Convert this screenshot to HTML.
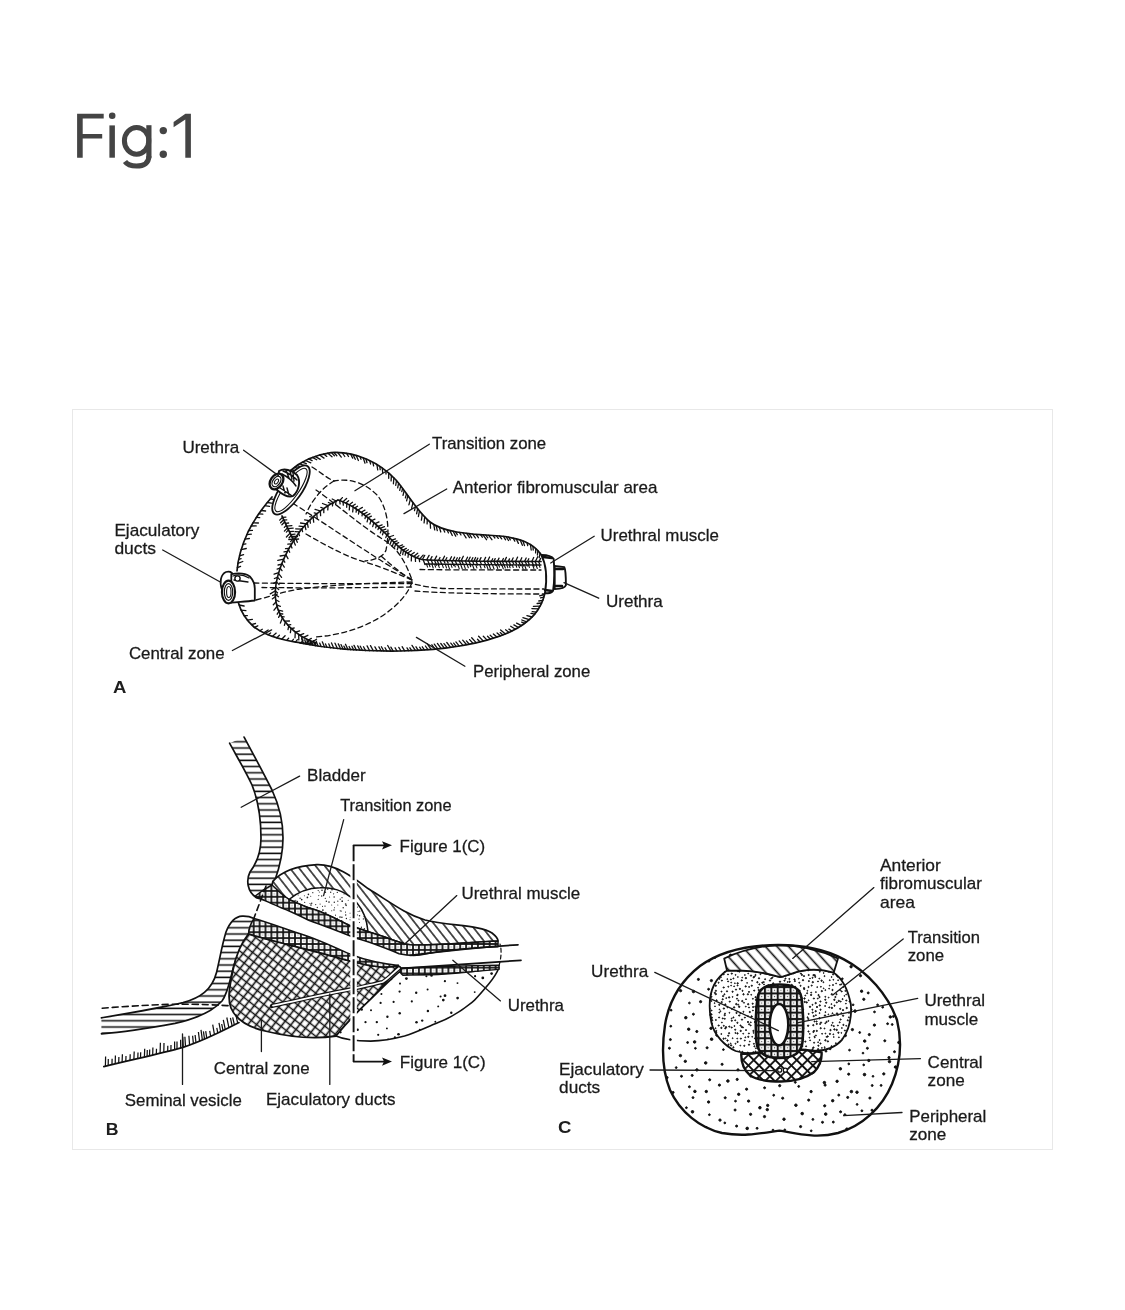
<!DOCTYPE html>
<html><head><meta charset="utf-8">
<style>
html,body{margin:0;padding:0;background:#fff;width:1125px;height:1310px;overflow:hidden}

.box{position:absolute;left:72px;top:409px;width:979px;height:739px;border:1px solid #e8e8e8}
svg{position:absolute;left:0;top:0;will-change:transform}
</style></head><body>

<div class="box"></div>
<svg width="1125" height="1310" viewBox="0 0 1125 1310">
<defs>
<pattern id="hatchAF" patternUnits="userSpaceOnUse" width="12" height="12" patternTransform="rotate(45)"><line x1="0" y1="0" x2="0" y2="12" stroke="#111" stroke-width="1.4"/></pattern>
<pattern id="cross" patternUnits="userSpaceOnUse" width="7" height="7" patternTransform="rotate(45)"><path d="M0 0V7M0 0H7" stroke="#111" stroke-width="1.3" fill="none"/></pattern>
<pattern id="horiz" patternUnits="userSpaceOnUse" width="20" height="7.5"><line x1="0" y1="3.5" x2="20" y2="3.5" stroke="#111" stroke-width="1.5"/></pattern>
<pattern id="checker" patternUnits="userSpaceOnUse" width="6" height="6"><rect width="6" height="6" fill="#111"/><rect x="1.5" y="1.5" width="3" height="3" fill="#fff"/></pattern>
<pattern id="fineDots" patternUnits="userSpaceOnUse" width="5" height="5"><circle cx="1" cy="1" r="0.7" fill="#222"/><circle cx="3.5" cy="3.5" r="0.7" fill="#222"/></pattern>
<pattern id="sparseDots" patternUnits="userSpaceOnUse" width="16" height="16"><circle cx="3" cy="4" r="1.2" fill="#111"/><circle cx="11" cy="12" r="1.2" fill="#111"/><circle cx="12" cy="3" r="0.9" fill="#111"/></pattern>
</defs>
<g fill="#444" stroke="none">
<path d="M77.1 113.7H103.7V118.6H82.7V134.1H102.2V138.6H82.7V157.7H77.1Z"/>
<rect x="109.4" y="125.4" width="5.5" height="32.3"/>
<circle cx="112.2" cy="115.8" r="3.3"/>
<rect x="146.3" y="125.2" width="5.2" height="33"/>
<circle cx="163.3" cy="130.6" r="3.7"/>
<circle cx="163.3" cy="154.2" r="3.7"/>
<path d="M185.4 113.7H190.9V157.7H185.3V119.4L173.6 127.2V121.9Z"/>
</g>
<g fill="none" stroke="#444" stroke-width="5">
<ellipse cx="136.6" cy="140.8" rx="12.2" ry="13.4"/>
<path d="M148.9 156 C148.9 163 144 166.1 136.6 166.1 C131 166.1 127 164.5 125 161.5"/>
</g>
<g id="figA" fill="none" stroke="#111" stroke-linecap="round" stroke-linejoin="round">
<path d="M290 471 C300 462 314 455 331 452.6 C356 451 380 463 396 480 C408 494 416 510 430 522 C443 532 465 534 500 536 C520 538 533 543 541.5 555" stroke-width="1.7"/>
<path d="M291.3 469.9 l5.5 0.9 M294.4 467.3 l4.1 1.0 M296.8 465.6 l4.4 1.2 M299.6 463.8 l5.1 1.7 M302.2 462.2 l4.1 1.5 M305.5 460.5 l5.3 2.3 M308.7 458.9 l3.4 1.7 M312.4 457.4 l4.3 2.4 M315.2 456.4 l5.0 3.0 M319.5 455.0 l4.5 3.1 M323.7 454.0 l3.1 2.4 M327.6 453.1 l4.4 3.7 M331.4 452.6 l3.0 3.2 M334.0 452.5 l2.8 3.2 M337.7 452.5 l3.6 4.6 M342.3 452.8 l2.5 3.7 M346.6 453.3 l1.9 3.2 M350.5 454.0 l2.2 4.1 M353.0 454.6 l2.3 4.7 M356.2 455.4 l2.2 5.1 M359.9 456.6 l1.1 2.7 M363.2 457.8 l1.8 5.4 M365.9 458.9 l1.1 3.8 M369.7 460.6 l0.9 3.4 M372.9 462.3 l0.7 3.6 M376.9 464.5 l0.8 5.4 M379.8 466.4 l0.4 3.2 M382.3 468.1 l0.4 4.5 M385.9 470.8 l0.1 3.3 M388.7 473.1 l-0.0 5.2 M391.4 475.4 l-0.3 5.5 M393.9 477.9 l-0.5 5.9 M396.5 480.6 l-0.8 4.7 M398.6 483.2 l-0.9 4.7 M400.7 485.8 l-1.0 4.6 M402.6 488.3 l-0.8 3.4 M404.2 490.6 l-1.2 4.7 M406.5 493.6 l-1.1 4.3 M407.9 495.7 l-1.3 5.1 M410.4 499.2 l-1.5 5.6 M413.0 502.7 l-1.4 5.6 M415.5 506.2 l-1.0 4.5 M417.6 508.8 l-1.0 5.0 M419.4 511.1 l-1.0 5.4 M422.2 514.4 l-0.8 5.7 M424.7 517.0 l-0.6 5.9 M427.3 519.6 l-0.2 4.3 M430.2 522.1 l0.3 6.1 M433.8 524.6 l0.9 5.3 M436.2 525.9 l1.1 4.7 M439.3 527.3 l1.5 4.7 M443.3 528.7 l1.4 3.4 M447.1 529.9 l1.4 3.0 M449.9 530.6 l2.4 4.9 M453.1 531.3 l2.6 4.8 M455.6 531.8 l1.7 2.9 M459.4 532.4 l1.6 2.6 M463.0 533.0 l3.1 4.9 M466.7 533.4 l2.8 4.2 M469.1 533.7 l2.7 4.1 M472.7 534.1 l2.7 3.9 M476.1 534.4 l2.3 3.3 M480.5 534.7 l1.8 2.5 M483.0 534.9 l3.5 4.8 M485.8 535.1 l2.0 2.7 M488.7 535.3 l3.2 4.4 M493.1 535.6 l1.8 2.4 M496.4 535.8 l1.9 2.6 M499.5 536.0 l2.2 2.9 M503.4 536.4 l2.2 3.4 M506.1 536.7 l2.4 3.8 M508.7 537.1 l1.6 2.8 M513.1 538.0 l1.7 3.1 M516.2 538.7 l2.2 4.7 M520.2 539.9 l2.2 5.4 M522.9 540.8 l1.6 4.8 M527.0 542.6 l0.7 3.0 M530.4 544.5 l0.8 5.5 M533.0 546.3 l0.2 3.7 M535.8 548.6 l-0.2 4.3 M537.9 550.6 l-0.5 4.4 M540.1 553.1 l-0.9 4.6" stroke-width="1.3" stroke="#111"/>
<path d="M272 497 C264 506 255 518 248 532 C242 545 238 558 237 571" stroke-width="1.7"/>
<path d="M270.4 498.9 l4.1 0.8 M267.3 502.5 l4.2 0.7 M264.7 505.7 l4.8 0.7 M261.2 510.5 l4.4 0.5 M258.8 513.8 l4.0 0.3 M256.4 517.4 l3.3 0.2 M253.0 522.9 l5.4 0.1 M251.2 526.0 l5.0 -0.1 M248.7 530.6 l3.7 -0.2 M246.8 534.6 l4.5 -0.5 M244.9 539.1 l4.5 -0.6 M243.0 544.3 l2.9 -0.5 M241.1 549.7 l5.2 -1.2 M239.5 555.9 l4.1 -1.2 M238.6 559.5 l2.5 -0.8 M237.9 563.3 l4.9 -1.8 M237.3 567.7 l3.3 -1.4" stroke-width="1.3" stroke="#111"/>
<path d="M238.4 602.7 C241 612 246 620 254 627 C266 636 285 642 313 644" stroke-width="1.7"/>
<path d="M239.1 605.0 l5.0 1.0 M241.2 610.2 l4.7 0.4 M244.1 615.7 l3.3 -0.1 M247.3 620.1 l5.1 -0.8 M251.4 624.6 l4.1 -1.1 M254.4 627.3 l3.4 -1.5 M259.8 630.8 l2.5 -1.5 M263.8 632.9 l4.4 -2.9 M268.1 634.8 l2.5 -1.9 M272.3 636.4 l3.9 -3.3 M276.6 637.9 l2.8 -2.6 M281.7 639.3 l3.4 -3.5 M286.7 640.4 l1.9 -2.1 M291.7 641.4 l1.7 -2.1 M295.4 642.1 l2.0 -2.4 M301.0 642.8 l2.0 -2.7 M306.5 643.4 l1.8 -2.5 M310.3 643.8 l1.5 -2.2" stroke-width="1.3" stroke="#111"/>
<path d="M545 593 C541 610 531 622 510 632 C485 643 445 650 400 651 C360 651.5 330 649 300 643" stroke-width="1.7"/>
<path d="M544.6 594.5 l-5.0 1.4 M543.8 597.2 l-3.3 0.7 M542.7 600.4 l-3.9 0.6 M541.7 603.0 l-4.6 0.5 M540.1 606.2 l-6.7 0.2 M538.6 608.8 l-6.7 -0.2 M536.3 612.2 l-4.1 -0.5 M534.8 614.1 l-3.8 -0.7 M532.1 617.0 l-5.2 -1.3 M529.2 619.7 l-6.3 -2.1 M526.6 621.9 l-4.8 -1.9 M524.7 623.4 l-3.0 -1.3 M521.6 625.6 l-5.0 -2.5 M518.5 627.5 l-4.6 -2.6 M515.4 629.2 l-4.7 -2.9 M511.9 631.1 l-3.0 -2.0 M509.1 632.4 l-3.5 -2.6 M505.5 633.9 l-4.9 -3.9 M502.9 634.9 l-2.7 -2.3 M500.4 635.8 l-3.3 -2.8 M496.9 637.0 l-3.5 -3.1 M493.3 638.1 l-3.1 -2.9 M490.3 639.0 l-2.8 -2.7 M486.9 639.9 l-3.6 -3.6 M483.2 640.9 l-4.6 -4.7 M479.9 641.7 l-2.4 -2.5 M476.1 642.6 l-4.4 -4.8 M472.9 643.3 l-3.3 -3.7 M469.1 644.0 l-2.7 -3.1 M466.4 644.5 l-3.7 -4.3 M462.8 645.2 l-3.6 -4.3 M459.1 645.8 l-3.2 -3.9 M456.2 646.3 l-2.5 -3.2 M453.6 646.7 l-2.8 -3.6 M450.4 647.1 l-3.6 -4.6 M447.1 647.6 l-3.1 -4.0 M444.1 647.9 l-3.3 -4.4 M441.0 648.3 l-3.6 -4.9 M437.6 648.7 l-3.3 -4.6 M434.8 648.9 l-2.9 -4.1 M431.1 649.3 l-3.8 -5.4 M427.9 649.6 l-2.5 -3.6 M424.4 649.8 l-2.1 -3.0 M421.5 650.0 l-1.9 -2.8 M418.3 650.3 l-2.3 -3.5 M415.3 650.4 l-3.3 -5.0 M411.7 650.6 l-1.8 -2.8 M408.7 650.7 l-1.7 -2.8 M404.7 650.9 l-2.6 -4.2 M401.0 651.0 l-2.2 -3.6 M397.0 651.0 l-1.9 -3.2 M393.2 651.1 l-2.3 -4.0 M390.9 651.1 l-3.2 -5.6 M386.9 651.1 l-1.9 -3.4 M383.8 651.0 l-2.4 -4.3 M381.2 651.0 l-2.3 -4.1 M377.1 650.9 l-2.2 -4.0 M373.3 650.8 l-2.8 -5.2 M369.6 650.7 l-2.5 -4.8 M365.6 650.6 l-2.1 -3.9 M362.5 650.5 l-2.2 -4.3 M360.0 650.3 l-2.3 -4.4 M356.4 650.1 l-2.4 -4.7 M353.7 650.0 l-1.8 -3.7 M350.7 649.8 l-1.6 -3.3 M348.0 649.6 l-2.5 -5.3 M345.5 649.4 l-1.6 -3.3 M343.1 649.2 l-2.1 -4.6 M340.7 649.0 l-2.4 -5.1 M337.4 648.6 l-2.4 -5.4 M333.8 648.2 l-2.3 -5.3 M330.5 647.9 l-1.7 -4.0 M327.0 647.4 l-1.5 -3.5 M324.5 647.1 l-2.2 -5.3 M321.1 646.6 l-1.4 -3.5 M318.1 646.2 l-1.9 -5.0 M315.3 645.8 l-2.0 -5.2 M312.9 645.4 l-1.3 -3.6 M309.9 644.9 l-1.5 -4.0 M306.3 644.2 l-1.6 -4.4 M303.6 643.7 l-2.0 -5.8" stroke-width="1.3" stroke="#111"/>
<path d="M338 500 C322 508 305 522 294 540 C280 562 273 585 276 602 C279 620 295 636 316 643" stroke-width="1.6"/>
<path d="M336.1 501.0 l-3.9 -2.0 M331.2 503.7 l-2.8 -1.2 M328.0 505.7 l-5.5 -2.2 M323.9 508.5 l-3.1 -1.1 M320.5 511.0 l-5.4 -1.7 M317.1 513.7 l-2.9 -0.8 M313.0 517.3 l-3.3 -0.7 M309.4 520.7 l-4.8 -0.9 M306.4 523.8 l-5.9 -0.8 M303.9 526.6 l-4.8 -0.5 M301.7 529.2 l-6.0 -0.4 M299.5 531.9 l-4.5 -0.2 M296.4 536.3 l-5.7 0.1 M294.5 539.2 l-5.7 0.3 M291.7 543.8 l-3.9 0.3 M289.1 548.3 l-3.6 0.4 M287.4 551.4 l-3.4 0.5 M285.6 555.1 l-5.5 0.9 M283.7 559.1 l-5.9 1.2 M281.6 564.1 l-3.5 0.9 M280.1 568.2 l-3.0 0.9 M278.7 572.7 l-4.6 1.5 M277.4 577.3 l-3.0 1.2 M276.5 581.9 l-3.0 1.4 M275.7 587.4 l-3.8 2.1 M275.4 590.7 l-5.1 3.2 M275.4 596.5 l-3.1 2.4 M276.0 602.0 l-2.7 2.7 M277.0 606.5 l-3.0 3.7 M278.8 611.5 l-1.6 2.7 M280.2 614.4 l-1.6 3.0 M282.4 618.1 l-2.0 5.0 M285.3 622.2 l-0.9 3.1 M288.7 626.1 l-0.7 3.5 M291.0 628.3 l-0.6 4.4 M295.3 632.0 l-0.3 5.8 M298.7 634.5 l0.1 5.4 M301.9 636.5 l0.2 3.4 M306.9 639.3 l0.8 5.0 M310.2 640.8 l0.8 3.9 M315.1 642.7 l0.8 3.0" stroke-width="1.3" stroke="#111"/>
<path d="M336.1 501.0 l-0.5 3.6 M332.8 502.8 l-0.3 3.1 M328.0 505.7 l-0.2 4.2 M323.8 508.6 l0.0 4.1 M320.4 511.1 l0.2 4.6 M316.8 514.0 l0.4 4.8 M313.1 517.2 l0.6 4.9 M309.9 520.2 l0.5 3.0 M307.3 522.8 l0.9 4.5 M304.9 525.4 l1.0 4.3 M301.9 529.0 l0.7 2.7 M298.6 533.2 l0.9 2.5 M295.4 537.7 l1.9 4.6 M293.5 540.8 l1.8 4.3 M290.8 545.3 l1.2 2.7 M288.4 549.6 l1.3 2.6 M285.8 554.6 l2.2 4.0 M283.4 559.9 l1.4 2.3 M281.9 563.5 l2.4 3.6 M280.2 568.1 l1.8 2.5 M278.5 573.4 l3.1 3.9 M277.5 577.1 l2.0 2.3 M276.5 581.9 l2.6 2.7 M275.7 586.9 l3.0 2.6 M275.4 591.1 l2.1 1.6 M275.3 594.5 l3.2 2.2 M275.7 599.7 l3.3 1.8 M276.6 604.8 l3.8 1.5 M278.3 610.1 l4.3 1.0 M279.8 613.6 l3.0 0.4 M281.5 616.6 l2.7 0.2 M284.5 621.2 l5.0 -0.2 M287.8 625.1 l2.9 -0.4 M291.3 628.6 l2.9 -0.6 M295.5 632.2 l4.2 -1.3 M299.7 635.2 l4.0 -1.6 M303.4 637.4 l4.5 -2.1 M308.5 640.0 l2.8 -1.6 M312.6 641.8 l3.9 -2.6" stroke-width="1.3" stroke="#111"/>
<path d="M282 516 C286 525 290 533 294 541" stroke-width="1.8"/>
<path d="M282.6 517.3 l-2.9 2.8 M283.7 519.7 l-3.1 3.1 M284.7 522.0 l-2.8 2.8 M286.3 525.4 l-2.0 2.0 M287.5 527.9 l-3.1 3.2 M288.5 529.9 l-2.1 2.2 M290.1 533.1 l-3.7 3.9 M291.3 535.5 l-2.2 2.3 M293.0 539.0 l-2.4 2.6" stroke-width="1.3" stroke="#111"/>
<path d="M282.6 517.3 l3.3 -0.2 M283.8 520.1 l3.0 -0.2 M285.4 523.3 l3.2 -0.3 M286.7 526.1 l5.2 -0.5 M287.9 528.6 l5.3 -0.5 M289.4 531.7 l4.1 -0.4 M290.8 534.6 l4.2 -0.5 M292.1 537.1 l5.4 -0.6 M293.3 539.6 l5.3 -0.6" stroke-width="1.3" stroke="#111"/>
<path d="M338 500 C355 505 372 520 387 535 C398 547 408 556 422 559.5 C440 561 500 561.5 541 561.5" stroke-width="1.7"/>
<path d="M339.7 500.5 l0.4 3.4 M343.1 501.8 l0.2 3.3 M346.8 503.4 l-0.1 3.9 M349.6 504.8 l-0.3 5.1 M353.2 506.9 l-0.5 5.0 M356.5 509.0 l-0.4 3.1 M359.1 510.8 l-0.6 3.2 M362.5 513.2 l-0.5 2.6 M365.7 515.7 l-0.7 3.0 M368.2 517.6 l-1.1 4.2 M371.1 520.1 l-1.1 3.9 M373.9 522.5 l-1.2 4.1 M376.6 525.0 l-0.9 2.8 M378.8 527.1 l-0.8 2.5 M381.5 529.6 l-1.1 3.2 M383.6 531.6 l-1.1 3.2 M386.8 534.8 l-1.0 2.8 M389.8 538.0 l-1.9 4.8 M391.7 540.0 l-1.7 4.6 M393.8 542.1 l-1.5 4.2 M395.7 543.9 l-1.1 3.3 M398.3 546.3 l-1.0 3.5 M401.5 549.0 l-1.0 4.3 M403.5 550.5 l-0.8 4.1 M405.7 552.1 l-0.5 3.1 M408.4 553.8 l-0.4 3.5 M411.5 555.6 l-0.2 5.3 M415.3 557.3 l0.2 4.1 M419.2 558.7 l0.4 3.0 M423.1 559.6 l1.9 5.0 M427.5 559.9 l1.5 3.7 M431.2 560.0 l1.4 3.4 M434.5 560.2 l2.1 5.0 M437.1 560.3 l2.0 4.6 M440.1 560.4 l1.6 3.8 M443.8 560.5 l1.1 2.5 M447.0 560.6 l1.1 2.4 M451.6 560.7 l2.1 4.8 M455.2 560.8 l1.9 4.3 M459.2 560.8 l1.3 2.9 M461.8 560.9 l1.5 3.3 M465.3 560.9 l1.6 3.6 M468.9 561.0 l1.9 4.3 M472.5 561.1 l1.1 2.4 M475.9 561.1 l1.8 4.0 M480.0 561.2 l1.1 2.4 M484.2 561.2 l1.6 3.6 M487.3 561.2 l2.1 4.6 M490.4 561.3 l1.3 3.0 M493.9 561.3 l1.8 4.0 M496.7 561.3 l1.7 3.7 M499.6 561.3 l2.0 4.3 M502.4 561.4 l2.1 4.5 M505.9 561.4 l1.3 2.9 M509.0 561.4 l1.9 4.2 M512.5 561.4 l1.2 2.7 M515.3 561.4 l1.2 2.5 M518.7 561.5 l1.9 4.1 M521.5 561.5 l2.1 4.5 M525.2 561.5 l2.1 4.5 M527.9 561.5 l1.3 2.8 M531.8 561.5 l2.2 4.7 M535.0 561.5 l1.6 3.4 M538.5 561.5 l1.1 2.4" stroke-width="1.3" stroke="#111"/>
<path d="M339.7 500.5 l2.7 -2.9 M343.0 501.7 l3.6 -3.3 M345.9 503.0 l2.7 -2.3 M349.3 504.7 l3.2 -2.4 M352.1 506.3 l3.1 -2.1 M354.9 507.9 l2.6 -1.7 M358.0 510.0 l4.4 -2.6 M361.1 512.2 l3.8 -2.1 M363.7 514.1 l3.4 -1.8 M365.8 515.8 l4.2 -2.1 M368.3 517.7 l3.1 -1.5 M371.7 520.6 l3.2 -1.5 M375.0 523.6 l4.0 -1.7 M378.1 526.4 l4.0 -1.6 M380.1 528.3 l4.3 -1.7 M382.3 530.4 l3.5 -1.3 M384.3 532.3 l2.6 -1.0 M386.5 534.6 l2.5 -0.9 M388.8 537.0 l4.7 -1.5 M391.9 540.2 l3.6 -1.3 M393.8 542.1 l3.3 -1.2 M395.7 543.9 l3.0 -1.2 M398.5 546.5 l4.0 -1.7 M400.4 548.1 l3.6 -1.7 M403.0 550.1 l3.3 -1.7 M405.2 551.7 l3.2 -1.9 M407.4 553.2 l3.8 -2.5 M410.7 555.1 l3.5 -2.6 M413.7 556.6 l4.0 -3.4 M416.6 557.8 l2.3 -2.2 M419.7 558.9 l3.4 -3.8 M422.4 559.5 l2.3 -4.1 M426.7 559.8 l2.4 -4.4 M430.2 560.0 l1.8 -3.4 M434.5 560.2 l2.1 -4.1 M438.6 560.3 l1.4 -2.8 M442.4 560.4 l2.1 -4.2 M445.4 560.5 l1.4 -2.8 M449.6 560.6 l1.9 -3.8 M452.8 560.7 l1.8 -3.6 M455.8 560.8 l1.5 -3.0 M458.3 560.8 l1.6 -3.3 M461.1 560.9 l2.2 -4.6 M465.6 561.0 l1.9 -3.8 M468.2 561.0 l1.9 -3.8 M471.2 561.0 l1.6 -3.3 M473.9 561.1 l1.7 -3.6 M476.3 561.1 l1.5 -3.0 M479.3 561.1 l1.7 -3.5 M483.8 561.2 l1.8 -3.8 M487.6 561.2 l2.0 -4.2 M491.5 561.3 l1.2 -2.5 M493.9 561.3 l1.3 -2.7 M497.5 561.3 l1.5 -3.2 M502.0 561.4 l1.4 -2.9 M504.5 561.4 l1.9 -4.0 M508.3 561.4 l1.2 -2.5 M511.5 561.4 l1.6 -3.5 M515.6 561.4 l2.0 -4.3 M520.1 561.5 l1.7 -3.7 M524.5 561.5 l1.7 -3.5 M527.5 561.5 l1.3 -2.7 M531.8 561.5 l1.9 -4.0 M535.4 561.5 l2.3 -4.8 M539.1 561.5 l1.5 -3.1" stroke-width="1.3" stroke="#111"/>
<path d="M425 564 C450 564.5 500 565 541 565" stroke-width="1.3"/>
<path d="M426.5 564.0 l1.1 3.1 M429.1 564.1 l0.9 2.6 M431.9 564.1 l1.3 3.9 M434.6 564.2 l1.0 3.0 M438.1 564.2 l1.2 3.4 M442.2 564.3 l1.1 3.3 M445.3 564.3 l1.2 3.6 M447.9 564.4 l1.5 4.2 M450.9 564.4 l1.1 3.0 M454.4 564.5 l0.9 2.5 M457.8 564.5 l1.4 4.1 M460.7 564.5 l1.5 4.3 M463.9 564.6 l1.4 3.9 M467.2 564.6 l1.1 3.1 M469.9 564.6 l0.8 2.2 M472.4 564.6 l1.6 4.4 M475.8 564.7 l1.1 3.2 M479.8 564.7 l1.3 3.5 M483.9 564.7 l1.1 3.0 M486.5 564.8 l1.5 4.3 M489.0 564.8 l1.4 4.0 M492.5 564.8 l1.6 4.4 M496.4 564.8 l1.3 3.7 M498.7 564.9 l0.8 2.2 M501.9 564.9 l1.4 4.0 M504.2 564.9 l1.1 3.1 M506.8 564.9 l1.0 2.9 M509.1 564.9 l1.0 2.9 M512.3 564.9 l0.9 2.6 M515.9 564.9 l0.8 2.3 M518.5 565.0 l1.0 2.7 M521.7 565.0 l1.4 3.9 M524.6 565.0 l1.3 3.7 M528.5 565.0 l0.9 2.4 M532.6 565.0 l1.3 3.5 M536.0 565.0 l1.3 3.5 M539.1 565.0 l0.9 2.4" stroke-width="1.1"/>
<!-- dashed internal lines -->
<g stroke-width="1.3" stroke-dasharray="5 3.5">
 <path d="M312 467 C320 472 327 478 334 481 C348 478 365 482 378 496 C388 510 390 530 386 550 C384 556 376 560 365 561"/>
 <path d="M334 481 C322 488 312 500 306 514"/>
 <path d="M286 499 C320 520 360 548 412 580"/>
 <path d="M316 490 C335 503 360 525 380.8 538 C392 545 402 552 412 580"/>
 <path d="M306 534 C330 548 350 558 365 562 C385 568 400 575 412 580"/>
 <path d="M254 583 C300 583.5 360 584 412 583.5"/>
 <path d="M262 587.5 C300 588 360 588 412 587"/>
 <path d="M256 600 C272 596 286 591 300 589 C330 585 370 583 412 582"/>
 <path d="M412 582 C408 595 395 608 379 618 C360 629 340 635 316 637"/>
 <path d="M412 580 C402 574 392 566 380 555"/>
 <path d="M420 569.5 C450 570 500 570 541 570"/>
 <path d="M407 582 C420 586 432 588 445 588.5 C480 589 520 589 544 589"/>
 <path d="M415 591 C440 593 480 594 544 594"/>
</g>
<!-- urethra ring top-left -->
<g stroke-width="1.8" fill="#fff">
 <ellipse cx="291" cy="490" rx="10.5" ry="29" transform="rotate(35 291 490)"/>
 <ellipse cx="291" cy="490" rx="7.5" ry="26" transform="rotate(35 291 490)" stroke-width="1.1"/>
 <path d="M279 471 C284 468 292 470 297 475 C301 481 299 491 293 496 C289 498 283 495 277 490 Z" fill="#fff" stroke-width="1.9"/>
 <path d="M283 471 C288 473 293 476 297 480 M282 474 C288 477 292 480 296 486 M286 470 L289 478 M290 471 L292 479 M293 473 L294 481 M280 488 C285 491 289 494 292 496 M283 486 L285 493 M287 488 L289 495" fill="none" stroke-width="1.4"/>
 <ellipse cx="276.5" cy="481.5" rx="6" ry="8.5" transform="rotate(35 276.5 481.5)" stroke-width="2.3"/>
 <ellipse cx="276.5" cy="481.5" rx="3.6" ry="5.8" transform="rotate(35 276.5 481.5)" stroke-width="1.3"/>
 <ellipse cx="276.5" cy="481.5" rx="1.6" ry="2.8" transform="rotate(35 276.5 481.5)" stroke-width="1"/>
</g>
<!-- ejaculatory duct tube -->
<g stroke-width="1.8" fill="#fff">
 <path d="M222 590 C219 582 221 574 226 572 C230 571 233 573 234 577" fill="none" stroke-width="1.7"/>
 <path d="M231.3 574.2 C238 573 245 573 249.8 576.4 C253 580 254.8 584 254.8 588.4 L254.8 600.5 C246 601.5 238 602 231.3 602.7 Z"/>
 <path d="M233 576 C238 574 244 575 249 578 M234 580 L248 582" fill="none" stroke-width="1.3"/>
 <ellipse cx="228.5" cy="592" rx="6.6" ry="11.4" stroke-width="2.1"/>
 <ellipse cx="228.5" cy="592" rx="4.2" ry="8.4" stroke-width="1.2"/>
 <ellipse cx="228.8" cy="592" rx="2.2" ry="5.5" stroke-width="1.1"/>
 <circle cx="237.5" cy="578.5" r="2.6" stroke-width="1.4"/>
</g>
<!-- right urethral muscle ring + urethra -->
<g stroke-width="1.9" fill="#fff">
 <path d="M541.3 554.9 C546 555 551 555 553.6 558.7 C554.5 568 554.7 580 553.1 590.7 C552 593 548 593.5 545 593 C547 580 547 566 541.3 554.9 Z"/>
 <path d="M554.7 566 C558 566.5 562 566.5 564.3 567.2 C565.9 570 565.9 580 565.9 585.3 C565 588 560 589 554.7 589.1 Z"/>
</g>
<path d="M543 557 L552 558 M545 590 L552 591 M556 569 L563 569 M556 586 L562 586" stroke-width="2.5"/>

</g><defs>
<pattern id="bHoriz" patternUnits="userSpaceOnUse" width="40" height="6.2" y="1"><rect width="40" height="6.2" fill="#fff"/><line x1="0" y1="3" x2="40" y2="3" stroke="#111" stroke-width="1.6"/></pattern>
<pattern id="bDiag" patternUnits="userSpaceOnUse" width="7.2" height="40" patternTransform="rotate(-38)"><rect width="7.2" height="40" fill="#fff"/><line x1="3.6" y1="0" x2="3.6" y2="40" stroke="#111" stroke-width="1.4"/></pattern>
<pattern id="bCross" patternUnits="userSpaceOnUse" width="6.8" height="6.8" patternTransform="rotate(38)"><rect width="6.8" height="6.8" fill="#fff"/><path d="M3.4 0V6.8M0 3.4H6.8" stroke="#111" stroke-width="1.6" fill="none"/></pattern>
<pattern id="bCheck" patternUnits="userSpaceOnUse" width="5.9" height="5.9"><rect width="5.9" height="5.9" fill="#141414"/><rect x="0.9" y="0.9" width="4.1" height="4.1" fill="#fff"/><rect x="2.45" y="2.45" width="1" height="1" fill="#666"/></pattern>
<pattern id="bFine" patternUnits="userSpaceOnUse" width="5" height="5"><rect width="5" height="5" fill="#fff"/><circle cx="1.2" cy="1.2" r="0.75" fill="#222"/><circle cx="3.7" cy="3.7" r="0.75" fill="#222"/></pattern>
<pattern id="bSparse" patternUnits="userSpaceOnUse" width="14" height="14"><rect width="14" height="14" fill="#fff"/><circle cx="3" cy="3" r="1.1" fill="#111"/><circle cx="10" cy="10" r="1.1" fill="#111"/></pattern>
</defs>
<g id="figB" stroke="#111" stroke-linejoin="round" stroke-linecap="round">
<!-- bladder upper wall -->
<path fill="url(#bHoriz)" stroke-width="1.7" d="M229.6 743.2 C236 755 246 772 252 785 C258 800 261 818 261 838 C261 852 256 864 250 872 C246 880 247 892 257 898 C262 900 266 900 268 900 L275 880 C280 866 283 852 283 838 C283 822 279 805 272 790 C262 770 252 752 244.1 737.1"/>
<!-- AFMS hatched -->
<path fill="url(#bDiag)" stroke-width="1.7" d="M272.8 881.4 C280 873 295 866 316.8 864.6 C335 864 352 876 368 888.6 C390 902 405 914 425 920 C450 926 480 925 492 933 C497 937 498 939 498 941 C460 943 430 946 410 944.8 C403 944 395 941 384 936.8 C372 933 360 929 349 925.2 C340 921 330 915 315 909.7 C306 907.5 300 904 289 899.5 C284 897 278 892 272 886 Z"/>
<!-- transition zone dotted -->
<clipPath id="bTZclip"><path d="M289 899.5 C298 892 308 888 320 887.8 C335 887 348 893 357 903 C363 910 367 920 368 931.5 C362 929.5 355 927 349 925.2 C340 921 328 914 315 909.7 C306 907.5 298 904 289 899.5 Z"/></clipPath><path fill="#fff" stroke="none" d="M289 899.5 C298 892 308 888 320 887.8 C335 887 348 893 357 903 C363 910 367 920 368 931.5 C362 929.5 355 927 349 925.2 C340 921 328 914 315 909.7 C306 907.5 298 904 289 899.5 Z"/><g clip-path="url(#bTZclip)" fill="#222" stroke="none"><circle cx="284.5" cy="885.8" r="0.72"/><circle cx="290.3" cy="883.8" r="0.78"/><circle cx="296.2" cy="885.1" r="0.68"/><circle cx="298.0" cy="882.8" r="0.63"/><circle cx="304.0" cy="883.1" r="0.78"/><circle cx="306.8" cy="883.8" r="0.51"/><circle cx="314.6" cy="886.1" r="0.81"/><circle cx="317.3" cy="882.9" r="0.62"/><circle cx="321.2" cy="883.3" r="0.83"/><circle cx="325.0" cy="883.5" r="0.79"/><circle cx="328.3" cy="886.9" r="0.66"/><circle cx="334.6" cy="884.3" r="0.67"/><circle cx="337.4" cy="883.0" r="0.80"/><circle cx="342.0" cy="886.2" r="0.57"/><circle cx="349.7" cy="886.7" r="0.76"/><circle cx="353.2" cy="885.4" r="0.76"/><circle cx="354.7" cy="884.9" r="0.79"/><circle cx="359.5" cy="886.9" r="0.81"/><circle cx="364.8" cy="884.4" r="0.66"/><circle cx="369.1" cy="887.2" r="0.64"/><circle cx="283.9" cy="887.6" r="0.75"/><circle cx="292.6" cy="889.4" r="0.67"/><circle cx="295.0" cy="890.5" r="0.58"/><circle cx="299.7" cy="889.6" r="0.72"/><circle cx="302.2" cy="887.9" r="0.62"/><circle cx="309.9" cy="888.7" r="0.71"/><circle cx="311.5" cy="887.7" r="0.52"/><circle cx="318.2" cy="890.6" r="0.63"/><circle cx="322.0" cy="890.2" r="0.81"/><circle cx="327.6" cy="889.0" r="0.85"/><circle cx="332.0" cy="889.8" r="0.81"/><circle cx="334.4" cy="888.9" r="0.59"/><circle cx="340.5" cy="887.9" r="0.52"/><circle cx="344.5" cy="890.6" r="0.67"/><circle cx="349.1" cy="887.4" r="0.59"/><circle cx="351.1" cy="889.0" r="0.56"/><circle cx="354.5" cy="888.7" r="0.81"/><circle cx="362.9" cy="890.5" r="0.67"/><circle cx="364.1" cy="891.4" r="0.68"/><circle cx="370.6" cy="887.3" r="0.57"/><circle cx="287.5" cy="895.1" r="0.81"/><circle cx="290.8" cy="893.5" r="0.70"/><circle cx="296.3" cy="893.0" r="0.69"/><circle cx="298.2" cy="895.0" r="0.50"/><circle cx="304.4" cy="895.8" r="0.51"/><circle cx="308.4" cy="894.4" r="0.80"/><circle cx="312.8" cy="892.7" r="0.64"/><circle cx="318.8" cy="895.6" r="0.55"/><circle cx="319.4" cy="892.0" r="0.51"/><circle cx="325.4" cy="892.2" r="0.80"/><circle cx="330.7" cy="892.2" r="0.69"/><circle cx="333.6" cy="893.8" r="0.58"/><circle cx="337.3" cy="892.4" r="0.63"/><circle cx="344.1" cy="894.0" r="0.52"/><circle cx="348.5" cy="895.4" r="0.77"/><circle cx="353.3" cy="891.6" r="0.66"/><circle cx="354.5" cy="895.0" r="0.56"/><circle cx="361.7" cy="892.7" r="0.74"/><circle cx="364.4" cy="891.8" r="0.64"/><circle cx="368.8" cy="895.6" r="0.60"/><circle cx="286.0" cy="898.4" r="0.83"/><circle cx="288.6" cy="898.6" r="0.68"/><circle cx="295.8" cy="900.3" r="0.61"/><circle cx="300.1" cy="898.3" r="0.70"/><circle cx="301.7" cy="899.6" r="0.84"/><circle cx="307.4" cy="897.4" r="0.85"/><circle cx="310.7" cy="896.3" r="0.53"/><circle cx="318.2" cy="899.3" r="0.66"/><circle cx="321.7" cy="896.1" r="0.73"/><circle cx="325.3" cy="898.3" r="0.64"/><circle cx="329.6" cy="897.0" r="0.52"/><circle cx="334.1" cy="897.1" r="0.75"/><circle cx="340.2" cy="899.2" r="0.66"/><circle cx="342.0" cy="897.7" r="0.67"/><circle cx="348.2" cy="900.2" r="0.53"/><circle cx="351.9" cy="898.2" r="0.75"/><circle cx="358.1" cy="899.4" r="0.72"/><circle cx="361.9" cy="898.9" r="0.80"/><circle cx="366.1" cy="899.0" r="0.59"/><circle cx="371.4" cy="897.7" r="0.72"/><circle cx="287.4" cy="904.6" r="0.85"/><circle cx="288.2" cy="901.8" r="0.61"/><circle cx="294.3" cy="901.0" r="0.69"/><circle cx="297.3" cy="901.7" r="0.83"/><circle cx="304.7" cy="902.4" r="0.54"/><circle cx="310.0" cy="903.5" r="0.57"/><circle cx="311.7" cy="903.2" r="0.74"/><circle cx="315.7" cy="904.6" r="0.61"/><circle cx="320.1" cy="904.1" r="0.55"/><circle cx="326.4" cy="901.3" r="0.71"/><circle cx="329.0" cy="902.1" r="0.83"/><circle cx="334.3" cy="902.3" r="0.72"/><circle cx="337.8" cy="901.2" r="0.63"/><circle cx="342.2" cy="901.2" r="0.84"/><circle cx="345.6" cy="904.0" r="0.83"/><circle cx="352.9" cy="900.5" r="0.68"/><circle cx="354.4" cy="903.1" r="0.75"/><circle cx="359.7" cy="900.4" r="0.69"/><circle cx="363.4" cy="901.8" r="0.66"/><circle cx="371.3" cy="902.0" r="0.55"/><circle cx="287.3" cy="908.4" r="0.69"/><circle cx="288.4" cy="905.6" r="0.64"/><circle cx="295.0" cy="905.8" r="0.78"/><circle cx="300.7" cy="908.9" r="0.81"/><circle cx="301.5" cy="907.4" r="0.53"/><circle cx="309.8" cy="908.1" r="0.77"/><circle cx="311.0" cy="905.1" r="0.79"/><circle cx="317.3" cy="907.5" r="0.66"/><circle cx="322.5" cy="906.3" r="0.59"/><circle cx="325.0" cy="906.1" r="0.72"/><circle cx="331.7" cy="905.1" r="0.52"/><circle cx="334.5" cy="907.8" r="0.57"/><circle cx="337.8" cy="905.1" r="0.51"/><circle cx="343.2" cy="907.8" r="0.73"/><circle cx="346.1" cy="905.3" r="0.83"/><circle cx="352.2" cy="906.6" r="0.74"/><circle cx="357.4" cy="907.1" r="0.53"/><circle cx="362.2" cy="905.7" r="0.51"/><circle cx="364.6" cy="907.1" r="0.72"/><circle cx="368.2" cy="907.9" r="0.67"/><circle cx="284.5" cy="912.9" r="0.78"/><circle cx="292.2" cy="912.2" r="0.58"/><circle cx="296.0" cy="913.2" r="0.69"/><circle cx="301.0" cy="913.5" r="0.64"/><circle cx="305.5" cy="913.3" r="0.78"/><circle cx="305.8" cy="910.7" r="0.71"/><circle cx="312.9" cy="912.5" r="0.73"/><circle cx="315.3" cy="913.3" r="0.69"/><circle cx="322.9" cy="910.1" r="0.85"/><circle cx="325.8" cy="912.6" r="0.76"/><circle cx="331.7" cy="910.8" r="0.53"/><circle cx="334.0" cy="910.0" r="0.69"/><circle cx="340.2" cy="910.8" r="0.55"/><circle cx="341.1" cy="911.1" r="0.70"/><circle cx="345.5" cy="912.1" r="0.57"/><circle cx="350.3" cy="913.3" r="0.68"/><circle cx="358.1" cy="911.5" r="0.54"/><circle cx="359.7" cy="911.1" r="0.72"/><circle cx="366.4" cy="912.5" r="0.73"/><circle cx="368.5" cy="911.1" r="0.63"/><circle cx="286.0" cy="914.8" r="0.69"/><circle cx="290.2" cy="913.8" r="0.79"/><circle cx="295.2" cy="917.1" r="0.76"/><circle cx="300.2" cy="918.0" r="0.63"/><circle cx="303.1" cy="913.6" r="0.73"/><circle cx="308.4" cy="916.1" r="0.85"/><circle cx="311.1" cy="914.6" r="0.76"/><circle cx="318.2" cy="915.7" r="0.52"/><circle cx="320.6" cy="917.2" r="0.67"/><circle cx="325.4" cy="915.3" r="0.72"/><circle cx="330.4" cy="916.6" r="0.80"/><circle cx="335.5" cy="915.2" r="0.59"/><circle cx="340.0" cy="917.1" r="0.82"/><circle cx="341.9" cy="917.3" r="0.81"/><circle cx="345.7" cy="915.0" r="0.72"/><circle cx="350.4" cy="917.3" r="0.59"/><circle cx="357.2" cy="914.9" r="0.58"/><circle cx="359.5" cy="915.8" r="0.75"/><circle cx="364.0" cy="916.6" r="0.62"/><circle cx="370.3" cy="915.2" r="0.57"/><circle cx="284.4" cy="918.3" r="0.74"/><circle cx="290.0" cy="918.5" r="0.81"/><circle cx="295.5" cy="918.1" r="0.75"/><circle cx="299.6" cy="920.0" r="0.68"/><circle cx="305.6" cy="919.6" r="0.72"/><circle cx="308.6" cy="919.6" r="0.62"/><circle cx="313.5" cy="920.8" r="0.66"/><circle cx="316.9" cy="919.0" r="0.78"/><circle cx="319.1" cy="920.8" r="0.66"/><circle cx="324.4" cy="920.6" r="0.70"/><circle cx="328.2" cy="920.2" r="0.56"/><circle cx="335.7" cy="919.4" r="0.61"/><circle cx="337.5" cy="918.2" r="0.57"/><circle cx="341.7" cy="920.7" r="0.80"/><circle cx="346.4" cy="918.5" r="0.69"/><circle cx="350.3" cy="919.8" r="0.77"/><circle cx="355.1" cy="921.1" r="0.69"/><circle cx="359.0" cy="919.1" r="0.71"/><circle cx="363.4" cy="918.9" r="0.70"/><circle cx="371.0" cy="920.3" r="0.73"/><circle cx="283.8" cy="923.7" r="0.61"/><circle cx="292.2" cy="924.0" r="0.77"/><circle cx="292.8" cy="924.6" r="0.81"/><circle cx="300.4" cy="925.0" r="0.56"/><circle cx="305.5" cy="922.8" r="0.84"/><circle cx="309.2" cy="925.6" r="0.69"/><circle cx="310.9" cy="923.9" r="0.73"/><circle cx="317.5" cy="924.1" r="0.78"/><circle cx="319.2" cy="923.7" r="0.53"/><circle cx="324.8" cy="925.9" r="0.76"/><circle cx="328.5" cy="923.8" r="0.54"/><circle cx="335.1" cy="924.3" r="0.58"/><circle cx="338.2" cy="926.2" r="0.65"/><circle cx="344.0" cy="925.2" r="0.67"/><circle cx="347.8" cy="924.0" r="0.57"/><circle cx="352.0" cy="923.7" r="0.62"/><circle cx="355.0" cy="926.4" r="0.65"/><circle cx="359.5" cy="922.5" r="0.57"/><circle cx="366.8" cy="923.9" r="0.73"/><circle cx="368.4" cy="925.3" r="0.66"/><circle cx="287.0" cy="929.1" r="0.63"/><circle cx="289.4" cy="929.4" r="0.79"/><circle cx="295.6" cy="928.9" r="0.61"/><circle cx="300.9" cy="930.5" r="0.55"/><circle cx="304.4" cy="930.2" r="0.74"/><circle cx="310.0" cy="930.7" r="0.59"/><circle cx="314.6" cy="928.2" r="0.63"/><circle cx="318.9" cy="927.5" r="0.64"/><circle cx="321.8" cy="928.0" r="0.59"/><circle cx="326.9" cy="929.5" r="0.76"/><circle cx="331.3" cy="930.6" r="0.81"/><circle cx="335.8" cy="931.1" r="0.67"/><circle cx="339.7" cy="929.1" r="0.84"/><circle cx="343.9" cy="928.7" r="0.73"/><circle cx="346.7" cy="927.4" r="0.64"/><circle cx="350.4" cy="926.8" r="0.53"/><circle cx="356.2" cy="930.2" r="0.52"/><circle cx="361.4" cy="927.3" r="0.68"/><circle cx="364.3" cy="928.8" r="0.75"/><circle cx="369.2" cy="928.5" r="0.75"/><circle cx="284.3" cy="932.7" r="0.75"/><circle cx="291.9" cy="935.5" r="0.59"/><circle cx="295.4" cy="932.6" r="0.75"/><circle cx="300.7" cy="931.8" r="0.62"/><circle cx="305.5" cy="932.8" r="0.72"/><circle cx="309.4" cy="932.4" r="0.77"/><circle cx="310.2" cy="932.7" r="0.56"/><circle cx="316.1" cy="932.1" r="0.51"/><circle cx="322.5" cy="932.0" r="0.70"/><circle cx="325.8" cy="934.9" r="0.80"/><circle cx="330.5" cy="931.9" r="0.77"/><circle cx="332.6" cy="935.3" r="0.61"/><circle cx="337.7" cy="932.2" r="0.64"/><circle cx="344.5" cy="935.0" r="0.76"/><circle cx="348.6" cy="932.3" r="0.61"/><circle cx="351.1" cy="933.1" r="0.81"/><circle cx="358.6" cy="931.6" r="0.84"/><circle cx="362.6" cy="933.2" r="0.74"/><circle cx="366.5" cy="932.0" r="0.72"/><circle cx="371.7" cy="935.1" r="0.82"/></g><path fill="none" stroke-width="1.5" d="M289 899.5 C298 892 308 888 320 887.8 C335 887 348 893 357 903 C363 910 367 920 368 931.5 C362 929.5 355 927 349 925.2 C340 921 328 914 315 909.7 C306 907.5 298 904 289 899.5 Z"/>
<!-- lower bladder wall + seminal vesicle band -->
<path fill="url(#bHoriz)" stroke-width="1.7" d="M101.4 1017.8 C130 1013 160 1008 183 1002.6 C200 998 212 990 216.6 972.2 C220 958 222 945 226 932 C230 922 236 916.5 242.2 916.2 C247 916 251 917 254 918.5 L253.4 921 C250 926 249 930 248.6 933.8 C244 943 238 953 234 965 C230 980 228 993 222 1001 C212 1012 195 1019 175 1023.4 C150 1028 125 1032 101.4 1033.8"/>
<!-- central zone crosshatch -->
<path fill="url(#bCross)" stroke-width="1.8" d="M248.6 933.8 C258 937 275 941 288 944.6 C310 950 335 957 352 961.4 C370 966 385 969 398.4 965.4 C392 975 385 985 371 999 C355 1014 345 1025 336 1036 C310 1040 285 1036 265 1031 C248 1027 236 1020 231 1008 C227 998 230 985 233 970 C236 955 242 942 248.6 933.8 Z"/>
<!-- peripheral zone sparse dots -->
<clipPath id="bPZclip"><path d="M399.4 971.9 C404 975 420 975 438.2 974.4 C460 973 480 971 499 967.7 C496 975 492 980 488.9 983.7 C482 992 475 1000 472 1002.3 C460 1012 450 1018 438.2 1022.6 C425 1028 415 1033 404.5 1036.1 C390 1040 380 1041 370.7 1041.1 C355 1041 345 1040 336 1036 C345 1025 355 1014 371 999 C385 985 392 978 399.4 971.9 Z"/></clipPath><path fill="#fff" stroke="none" d="M399.4 971.9 C404 975 420 975 438.2 974.4 C460 973 480 971 499 967.7 C496 975 492 980 488.9 983.7 C482 992 475 1000 472 1002.3 C460 1012 450 1018 438.2 1022.6 C425 1028 415 1033 404.5 1036.1 C390 1040 380 1041 370.7 1041.1 C355 1041 345 1040 336 1036 C345 1025 355 1014 371 999 C385 985 392 978 399.4 971.9 Z"/><g clip-path="url(#bPZclip)" fill="#111" stroke="none"><circle cx="335.5" cy="968.7" r="1.36"/><circle cx="348.1" cy="968.1" r="1.19"/><circle cx="357.5" cy="968.1" r="1.21"/><circle cx="376.8" cy="963.4" r="1.05"/><circle cx="381.4" cy="971.5" r="1.25"/><circle cx="393.3" cy="973.4" r="1.38"/><circle cx="412.7" cy="969.3" r="0.98"/><circle cx="418.0" cy="968.3" r="0.93"/><circle cx="432.5" cy="965.1" r="0.92"/><circle cx="448.1" cy="967.3" r="1.32"/><circle cx="461.2" cy="969.6" r="1.15"/><circle cx="475.3" cy="967.5" r="1.04"/><circle cx="491.6" cy="973.6" r="1.32"/><circle cx="500.8" cy="965.9" r="1.01"/><circle cx="333.6" cy="975.7" r="1.28"/><circle cx="347.4" cy="984.4" r="1.09"/><circle cx="366.2" cy="984.4" r="0.90"/><circle cx="370.2" cy="985.1" r="1.13"/><circle cx="391.4" cy="979.3" r="0.94"/><circle cx="400.0" cy="983.6" r="1.03"/><circle cx="406.4" cy="978.6" r="1.38"/><circle cx="426.4" cy="976.2" r="1.02"/><circle cx="431.5" cy="975.5" r="1.30"/><circle cx="444.9" cy="981.2" r="1.12"/><circle cx="457.5" cy="983.1" r="0.97"/><circle cx="475.1" cy="976.2" r="1.11"/><circle cx="482.8" cy="977.9" r="1.39"/><circle cx="501.9" cy="978.3" r="1.34"/><circle cx="332.7" cy="991.8" r="1.33"/><circle cx="350.1" cy="988.5" r="1.39"/><circle cx="357.8" cy="990.3" r="1.29"/><circle cx="371.6" cy="990.7" r="0.94"/><circle cx="381.4" cy="993.9" r="1.02"/><circle cx="399.6" cy="991.6" r="1.13"/><circle cx="416.2" cy="992.8" r="1.19"/><circle cx="427.6" cy="989.4" r="0.98"/><circle cx="440.6" cy="996.6" r="1.02"/><circle cx="445.0" cy="995.7" r="1.37"/><circle cx="457.6" cy="998.1" r="1.34"/><circle cx="474.7" cy="992.1" r="0.95"/><circle cx="480.8" cy="998.2" r="1.02"/><circle cx="500.8" cy="990.3" r="1.31"/><circle cx="337.1" cy="1003.2" r="0.99"/><circle cx="351.0" cy="1000.6" r="1.01"/><circle cx="361.7" cy="1009.5" r="1.21"/><circle cx="371.0" cy="1010.2" r="1.00"/><circle cx="380.6" cy="1002.9" r="1.12"/><circle cx="393.6" cy="1001.9" r="1.08"/><circle cx="411.8" cy="1001.4" r="1.08"/><circle cx="427.9" cy="1010.9" r="1.23"/><circle cx="438.2" cy="1006.4" r="0.97"/><circle cx="443.3" cy="1000.1" r="1.36"/><circle cx="463.3" cy="1010.7" r="0.91"/><circle cx="475.0" cy="1005.3" r="1.27"/><circle cx="484.0" cy="1011.1" r="0.94"/><circle cx="499.0" cy="1008.2" r="1.35"/><circle cx="338.7" cy="1020.3" r="1.30"/><circle cx="353.2" cy="1016.3" r="1.24"/><circle cx="365.5" cy="1022.2" r="1.11"/><circle cx="376.8" cy="1022.1" r="1.19"/><circle cx="387.4" cy="1016.7" r="1.19"/><circle cx="399.7" cy="1013.3" r="1.22"/><circle cx="416.5" cy="1022.3" r="1.26"/><circle cx="422.2" cy="1020.6" r="1.19"/><circle cx="435.3" cy="1021.8" r="0.94"/><circle cx="451.3" cy="1012.7" r="1.20"/><circle cx="460.8" cy="1015.0" r="1.25"/><circle cx="473.5" cy="1019.3" r="1.36"/><circle cx="483.3" cy="1012.5" r="1.05"/><circle cx="500.5" cy="1014.7" r="0.98"/><circle cx="340.6" cy="1032.3" r="1.12"/><circle cx="352.9" cy="1028.6" r="1.23"/><circle cx="357.6" cy="1029.7" r="1.30"/><circle cx="378.2" cy="1034.8" r="1.09"/><circle cx="386.9" cy="1028.4" r="0.97"/><circle cx="398.5" cy="1034.3" r="1.32"/><circle cx="413.4" cy="1035.6" r="1.04"/><circle cx="419.8" cy="1029.9" r="1.04"/><circle cx="432.8" cy="1029.5" r="1.21"/><circle cx="448.4" cy="1028.4" r="1.32"/><circle cx="466.4" cy="1030.0" r="0.94"/><circle cx="468.2" cy="1034.7" r="0.92"/><circle cx="488.3" cy="1031.3" r="1.05"/><circle cx="501.8" cy="1025.1" r="0.97"/><circle cx="335.5" cy="1037.7" r="1.31"/><circle cx="345.5" cy="1039.0" r="0.92"/><circle cx="362.5" cy="1042.4" r="1.21"/><circle cx="375.2" cy="1046.5" r="1.38"/><circle cx="388.1" cy="1039.6" r="1.14"/><circle cx="394.9" cy="1037.5" r="1.14"/><circle cx="413.4" cy="1039.4" r="1.04"/><circle cx="421.8" cy="1045.2" r="1.16"/><circle cx="437.3" cy="1045.9" r="1.10"/><circle cx="451.8" cy="1047.6" r="0.94"/><circle cx="465.9" cy="1045.5" r="0.96"/><circle cx="473.0" cy="1044.4" r="1.35"/><circle cx="484.6" cy="1043.8" r="1.34"/><circle cx="501.8" cy="1048.0" r="1.13"/></g><path fill="none" stroke-width="1.6" d="M399.4 971.9 C404 975 420 975 438.2 974.4 C460 973 480 971 499 967.7 C496 975 492 980 488.9 983.7 C482 992 475 1000 472 1002.3 C460 1012 450 1018 438.2 1022.6 C425 1028 415 1033 404.5 1036.1 C390 1040 380 1041 370.7 1041.1 C355 1041 345 1040 336 1036 C345 1025 355 1014 371 999 C385 985 392 978 399.4 971.9 Z"/>
<!-- upper urethral muscle band -->
<path fill="url(#bCheck)" stroke-width="1.5" d="M272 885 C278 891 284 896 289 899.5 C300 904 306 907.5 315 909.7 C330 915 340 921 349 925.2 C360 929 372 933 384 936.8 C395 941 403 944 410 944.8 C430 946 460 943 498 941 L498 946.8 C470 948 440 951 420 955 C412 956 405 955 399 953.7 C385 948 370 942 357 938.6 C340 932 325 926 310 920.8 C300 916 290 911 281.7 908 C272 904 262 899 255 896.3 C260 892 266 888 272 885 Z"/>
<!-- lower urethral muscle band -->
<path fill="url(#bCheck)" stroke-width="1.5" d="M254 918.5 C270 923 288 930 304 935 C322 941 338 949 352 955 C368 961 385 964 398.4 965.4 C385 969 370 966 352 961.4 C335 957 310 950 288 944.6 C275 941 258 937 248.6 933.8 C249 929 251 923 254 918.5 Z"/>
<path fill="url(#bCheck)" stroke-width="1.4" d="M401.6 968 C430 967 470 965.5 499 965.1 C499 967 499 968.5 499 969.4 C470 972 440 974.4 402.8 975.3 C400 973 400 970 401.6 968 Z"/>
<!-- urethra walls extend -->
<path fill="none" stroke-width="1.8" d="M410 955.4 C440 951.5 490 946.5 518 944.8"/>
<path fill="none" stroke-width="1.8" d="M401 968.5 C440 966 480 963 521 960.3"/>
<!-- ejaculatory duct white channel -->
<path fill="none" stroke="#111" stroke-width="4.2" d="M272 1006 C300 1000 330 993 353.8 988.8 C365 986 375 984 382.5 982 C388 979 393 973 399.4 968"/>
<path fill="none" stroke="#fff" stroke-width="1.8" d="M273 1005.6 C300 1000 330 993 353.8 988.8 C365 986 375 984 382.5 982 C388 979 393 973 399 968.3"/>
<!-- seminal vesicle hairy line -->
<path fill="none" stroke-width="1.7" d="M103.8 1066.6 C130 1060 160 1054 183 1047.4 C200 1042 215 1035 239 1022.6"/>
<path fill="none" stroke-width="1.6" stroke-dasharray="6 4" d="M102.2 1008.2 C130 1006 160 1004.5 175 1004.2 C200 1004 215 1005 231 1005.8"/>
<!-- dashed lines bladder-to-band -->
<path fill="none" stroke-width="1.6" stroke-dasharray="6 4" d="M266 886 L254 918"/>
<path fill="none" stroke-width="1.2" stroke-dasharray="4 3" d="M499 966 C501 958 502 951 500 944"/>
<!-- vertical cut line -->
<path fill="none" stroke="#fff" stroke-width="6.5" d="M353.6 862 V1060"/>
<path fill="none" stroke-width="1.9" stroke-linecap="butt" stroke-dasharray="16 3" d="M353.6 845.3 V1061.6"/>
<path fill="none" stroke-width="1.8" d="M353.6 845.3 H386 M353.6 1061.6 H386"/>
<path fill="#111" stroke="none" d="M392 845.3 L382 841.2 L384 845.3 L382 849.4 Z M392 1061.6 L382 1057.5 L384 1061.6 L382 1065.7 Z"/>
</g>
<g><path fill="none" stroke="#111" stroke-width="1.25" d="M105.4 1066.2 l0.2 -9.7 M108.2 1065.5 l0.1 -6.5 M112.0 1064.6 l0.1 -5.8 M115.2 1063.8 l0.2 -8.3 M118.7 1063.0 l0.2 -6.0 M122.1 1062.2 l0.3 -8.0 M125.8 1061.3 l0.2 -5.4 M130.0 1060.4 l0.2 -6.2 M133.9 1059.5 l0.3 -8.0 M137.8 1058.6 l0.2 -6.2 M140.5 1057.9 l0.2 -5.7 M144.4 1057.0 l0.3 -8.2 M147.1 1056.4 l0.2 -6.3 M149.5 1055.9 l0.2 -6.3 M152.7 1055.1 l0.2 -7.6 M156.3 1054.3 l0.2 -5.6 M160.1 1053.4 l0.3 -10.7 M163.8 1052.4 l0.2 -9.4 M167.7 1051.5 l0.1 -5.7 M170.9 1050.7 l0.1 -5.6 M174.6 1049.7 l0.0 -8.2 M177.0 1049.1 l-0.0 -7.7 M180.7 1048.0 l-0.1 -8.3 M183.3 1047.3 l-0.5 -10.4 M185.5 1046.6 l-0.6 -9.9 M189.6 1045.2 l-0.7 -9.4 M193.4 1043.8 l-0.8 -8.1 M196.0 1042.8 l-0.9 -7.8 M199.6 1041.4 l-1.2 -9.4 M202.4 1040.2 l-1.4 -10.4 M204.6 1039.3 l-1.2 -7.9 M206.8 1038.3 l-1.1 -7.1 M210.7 1036.6 l-1.0 -5.8 M214.5 1034.8 l-1.8 -10.1 M217.8 1033.2 l-1.0 -5.4 M220.7 1031.8 l-1.7 -8.9 M223.0 1030.7 l-1.3 -6.7 M225.3 1029.6 l-2.0 -9.7 M228.9 1027.7 l-2.1 -10.2 M232.2 1026.1 l-1.8 -8.2 M234.4 1025.0 l-1.7 -7.7 M237.7 1023.2 l-2.0 -9.2"/></g><defs><clipPath id="cOuter"><path d="M778.2 945 C800 945 825 949 843.9 959.4 C868 972 888 995 897 1020 C902 1040 901 1062 892 1084 C882 1108 862 1126 838 1133 C815 1139 795 1133 779.4 1130.6 C762 1133 745 1137 722 1133 C700 1128 680 1112 670 1090 C662 1070 662 1045 665 1025 C669 1000 682 980 700 966 C722 950 750 945 778.2 945 Z"/></clipPath><clipPath id="cTZ"><path d="M727 970.6 L742.7 970.6 C760 971 772 975 779.7 977 C783 977 787 975 792.5 973.4 C805 969 818 968 833.7 972.7 C842 978 848 990 850.8 1004 C852 1018 849 1030 842.2 1039.6 C835 1048 825 1051 813.8 1051 C805 1051 800 1050 798.2 1049.5 L759.7 1052.4 C752 1054 742 1053 735.6 1051 C725 1046 714 1035 711.4 1022.5 C709 1010 709 995 714 985 C717 979 722 974 727 970.6 Z"/></clipPath>
<pattern id="cDiag" patternUnits="userSpaceOnUse" width="8.6" height="40" patternTransform="rotate(-42)"><rect width="8.6" height="40" fill="#fff"/><line x1="4.3" y1="0" x2="4.3" y2="40" stroke="#111" stroke-width="1.6"/></pattern>
<pattern id="cCross" patternUnits="userSpaceOnUse" width="7.6" height="7.6" x="2" patternTransform="rotate(45)"><rect width="7.6" height="7.6" fill="#fff"/><path d="M3.8 0V7.6M0 3.8H7.6" stroke="#111" stroke-width="1.8" fill="none"/></pattern>
<pattern id="cCheck" patternUnits="userSpaceOnUse" width="6.4" height="6.4" x="758.5" y="987"><rect width="6.4" height="6.4" fill="#141414"/><rect x="1.1" y="1.1" width="4.3" height="4.3" fill="#fff"/><rect x="2.7" y="2.7" width="1.1" height="1.1" fill="#444"/></pattern>
</defs>
<g id="figC" stroke="#111" stroke-linejoin="round">
<path d="M778.2 945 C800 945 825 949 843.9 959.4 C868 972 888 995 897 1020 C902 1040 901 1062 892 1084 C882 1108 862 1126 838 1133 C815 1139 795 1133 779.4 1130.6 C762 1133 745 1137 722 1133 C700 1128 680 1112 670 1090 C662 1070 662 1045 665 1025 C669 1000 682 980 700 966 C722 950 750 945 778.2 945 Z" fill="#fff" stroke="none"/>
<g clip-path="url(#cOuter)"><g fill="#111"><circle cx="661.4" cy="942.7" r="1.21"/><circle cx="677.5" cy="942.7" r="1.27"/><circle cx="679.7" cy="939.6" r="1.27"/><circle cx="699.2" cy="944.5" r="0.90"/><circle cx="709.7" cy="937.1" r="1.09"/><circle cx="723.3" cy="934.5" r="0.95"/><circle cx="732.5" cy="944.7" r="1.19"/><circle cx="743.7" cy="943.3" r="0.91"/><circle cx="761.3" cy="935.8" r="0.85"/><circle cx="776.7" cy="936.7" r="0.95"/><circle cx="790.4" cy="944.2" r="0.98"/><circle cx="802.7" cy="940.4" r="1.16"/><circle cx="806.7" cy="945.0" r="1.16"/><circle cx="827.7" cy="944.4" r="0.98"/><circle cx="833.4" cy="936.2" r="0.92"/><circle cx="842.6" cy="937.8" r="1.12"/><circle cx="854.4" cy="942.0" r="1.00"/><circle cx="870.4" cy="943.6" r="1.07"/><circle cx="882.9" cy="939.8" r="1.17"/><circle cx="892.5" cy="945.3" r="0.86"/><circle cx="662.8" cy="956.4" r="0.86"/><circle cx="675.7" cy="951.0" r="1.11"/><circle cx="679.5" cy="947.4" r="0.93"/><circle cx="702.6" cy="949.1" r="1.19"/><circle cx="714.8" cy="957.5" r="1.00"/><circle cx="720.9" cy="952.8" r="1.20"/><circle cx="730.6" cy="955.3" r="1.21"/><circle cx="751.5" cy="947.3" r="1.28"/><circle cx="755.4" cy="950.7" r="1.12"/><circle cx="777.2" cy="950.7" r="1.27"/><circle cx="785.5" cy="950.4" r="0.99"/><circle cx="793.9" cy="947.8" r="0.92"/><circle cx="812.1" cy="958.1" r="0.92"/><circle cx="817.4" cy="958.0" r="1.09"/><circle cx="833.9" cy="949.5" r="1.12"/><circle cx="851.2" cy="952.0" r="1.04"/><circle cx="855.0" cy="957.2" r="0.86"/><circle cx="872.4" cy="956.3" r="0.91"/><circle cx="887.6" cy="957.6" r="1.13"/><circle cx="900.7" cy="948.1" r="1.05"/><circle cx="656.1" cy="968.9" r="0.98"/><circle cx="672.0" cy="970.6" r="1.23"/><circle cx="690.4" cy="964.5" r="1.07"/><circle cx="700.1" cy="964.8" r="0.98"/><circle cx="708.9" cy="961.0" r="1.02"/><circle cx="728.0" cy="970.2" r="1.13"/><circle cx="735.0" cy="963.2" r="0.89"/><circle cx="744.9" cy="968.2" r="1.24"/><circle cx="758.4" cy="968.2" r="1.20"/><circle cx="774.7" cy="966.8" r="1.19"/><circle cx="783.5" cy="967.3" r="0.98"/><circle cx="797.3" cy="968.0" r="1.16"/><circle cx="807.7" cy="970.0" r="1.14"/><circle cx="823.4" cy="959.5" r="1.10"/><circle cx="832.2" cy="966.9" r="1.06"/><circle cx="851.1" cy="966.7" r="1.21"/><circle cx="858.3" cy="966.6" r="1.18"/><circle cx="876.2" cy="963.3" r="1.23"/><circle cx="889.2" cy="967.1" r="1.29"/><circle cx="902.6" cy="965.2" r="1.09"/><circle cx="656.2" cy="981.3" r="1.27"/><circle cx="672.2" cy="979.7" r="1.17"/><circle cx="687.6" cy="973.8" r="1.20"/><circle cx="698.4" cy="979.4" r="1.04"/><circle cx="711.4" cy="980.6" r="1.14"/><circle cx="725.0" cy="972.2" r="0.92"/><circle cx="734.3" cy="979.2" r="0.95"/><circle cx="749.6" cy="979.0" r="0.87"/><circle cx="759.7" cy="974.4" r="0.87"/><circle cx="768.4" cy="975.4" r="0.93"/><circle cx="781.6" cy="972.3" r="1.06"/><circle cx="796.2" cy="978.8" r="1.12"/><circle cx="807.1" cy="982.0" r="0.85"/><circle cx="821.4" cy="975.0" r="1.03"/><circle cx="830.7" cy="981.2" r="1.02"/><circle cx="842.3" cy="978.8" r="0.89"/><circle cx="860.5" cy="975.7" r="1.11"/><circle cx="877.7" cy="981.1" r="1.04"/><circle cx="888.5" cy="979.1" r="1.02"/><circle cx="893.5" cy="978.6" r="1.10"/><circle cx="665.1" cy="995.3" r="1.12"/><circle cx="670.8" cy="994.4" r="0.85"/><circle cx="680.6" cy="990.7" r="1.13"/><circle cx="693.5" cy="991.5" r="1.25"/><circle cx="708.6" cy="989.2" r="0.95"/><circle cx="720.2" cy="995.3" r="1.02"/><circle cx="740.2" cy="994.7" r="1.12"/><circle cx="744.8" cy="995.4" r="1.07"/><circle cx="759.0" cy="988.0" r="1.29"/><circle cx="772.4" cy="987.6" r="1.06"/><circle cx="780.7" cy="991.4" r="1.05"/><circle cx="795.2" cy="993.2" r="1.22"/><circle cx="804.5" cy="990.4" r="0.97"/><circle cx="827.4" cy="993.2" r="0.96"/><circle cx="832.4" cy="986.1" r="1.29"/><circle cx="845.2" cy="991.2" r="1.06"/><circle cx="861.6" cy="991.2" r="1.18"/><circle cx="868.2" cy="992.9" r="0.99"/><circle cx="885.4" cy="988.2" r="0.98"/><circle cx="897.8" cy="989.6" r="1.01"/><circle cx="662.8" cy="1003.5" r="0.87"/><circle cx="669.7" cy="1002.0" r="1.26"/><circle cx="689.4" cy="1003.0" r="0.86"/><circle cx="700.6" cy="1001.7" r="1.11"/><circle cx="712.3" cy="1004.0" r="1.07"/><circle cx="727.1" cy="1001.2" r="1.03"/><circle cx="739.0" cy="999.1" r="0.98"/><circle cx="751.2" cy="997.6" r="1.23"/><circle cx="762.2" cy="1001.7" r="0.98"/><circle cx="775.7" cy="1007.1" r="0.91"/><circle cx="784.8" cy="1003.1" r="1.07"/><circle cx="795.6" cy="998.6" r="1.11"/><circle cx="813.5" cy="997.6" r="0.95"/><circle cx="826.1" cy="1005.8" r="1.15"/><circle cx="829.7" cy="1005.0" r="1.29"/><circle cx="853.1" cy="1004.8" r="0.87"/><circle cx="863.8" cy="999.3" r="1.14"/><circle cx="877.6" cy="1004.9" r="0.91"/><circle cx="882.7" cy="1007.2" r="0.92"/><circle cx="898.7" cy="1001.5" r="0.92"/><circle cx="661.4" cy="1009.9" r="0.90"/><circle cx="671.1" cy="1010.2" r="0.88"/><circle cx="685.8" cy="1017.7" r="1.25"/><circle cx="693.4" cy="1014.2" r="0.99"/><circle cx="711.1" cy="1014.9" r="1.27"/><circle cx="721.1" cy="1010.0" r="1.16"/><circle cx="731.1" cy="1016.5" r="1.08"/><circle cx="752.1" cy="1015.6" r="1.13"/><circle cx="757.3" cy="1015.6" r="0.96"/><circle cx="775.3" cy="1015.2" r="0.91"/><circle cx="782.0" cy="1013.6" r="1.18"/><circle cx="793.9" cy="1017.4" r="1.14"/><circle cx="805.3" cy="1016.9" r="0.89"/><circle cx="818.3" cy="1016.1" r="0.96"/><circle cx="839.2" cy="1014.8" r="1.00"/><circle cx="850.8" cy="1009.7" r="1.18"/><circle cx="855.0" cy="1011.1" r="1.28"/><circle cx="874.5" cy="1011.9" r="0.90"/><circle cx="890.3" cy="1016.9" r="1.22"/><circle cx="893.4" cy="1016.4" r="1.01"/><circle cx="657.0" cy="1025.6" r="1.13"/><circle cx="670.8" cy="1026.2" r="0.91"/><circle cx="688.7" cy="1029.2" r="1.21"/><circle cx="696.8" cy="1031.5" r="1.08"/><circle cx="711.0" cy="1028.3" r="1.18"/><circle cx="721.3" cy="1023.0" r="0.86"/><circle cx="731.7" cy="1022.3" r="1.25"/><circle cx="747.3" cy="1030.4" r="0.85"/><circle cx="759.7" cy="1031.9" r="1.13"/><circle cx="771.7" cy="1027.1" r="0.89"/><circle cx="781.1" cy="1023.7" r="1.02"/><circle cx="796.2" cy="1031.8" r="0.92"/><circle cx="807.2" cy="1025.0" r="0.92"/><circle cx="820.1" cy="1024.5" r="1.07"/><circle cx="829.7" cy="1032.3" r="1.02"/><circle cx="852.4" cy="1029.6" r="1.15"/><circle cx="859.7" cy="1032.5" r="0.90"/><circle cx="874.4" cy="1025.1" r="1.15"/><circle cx="887.6" cy="1023.7" r="0.94"/><circle cx="892.2" cy="1024.5" r="0.89"/><circle cx="658.9" cy="1045.3" r="1.01"/><circle cx="670.4" cy="1039.6" r="0.98"/><circle cx="687.6" cy="1042.5" r="0.92"/><circle cx="694.6" cy="1041.9" r="1.27"/><circle cx="711.6" cy="1039.2" r="1.29"/><circle cx="716.9" cy="1035.1" r="1.20"/><circle cx="734.0" cy="1034.9" r="1.10"/><circle cx="753.0" cy="1040.2" r="1.01"/><circle cx="755.4" cy="1035.2" r="1.25"/><circle cx="772.4" cy="1044.9" r="0.87"/><circle cx="782.1" cy="1034.9" r="1.03"/><circle cx="792.6" cy="1037.2" r="1.03"/><circle cx="807.8" cy="1035.0" r="0.87"/><circle cx="827.8" cy="1036.4" r="1.08"/><circle cx="833.9" cy="1040.4" r="0.89"/><circle cx="845.4" cy="1035.6" r="1.09"/><circle cx="864.7" cy="1041.1" r="1.24"/><circle cx="869.3" cy="1034.6" r="1.09"/><circle cx="884.8" cy="1040.8" r="1.02"/><circle cx="898.9" cy="1042.5" r="1.26"/><circle cx="657.8" cy="1051.9" r="1.22"/><circle cx="669.4" cy="1048.2" r="0.99"/><circle cx="680.4" cy="1055.6" r="1.22"/><circle cx="695.4" cy="1048.3" r="0.89"/><circle cx="707.1" cy="1047.8" r="1.04"/><circle cx="723.4" cy="1049.6" r="0.88"/><circle cx="737.3" cy="1047.4" r="0.94"/><circle cx="745.1" cy="1051.1" r="0.89"/><circle cx="759.1" cy="1050.4" r="1.19"/><circle cx="773.1" cy="1057.0" r="1.14"/><circle cx="787.9" cy="1053.3" r="1.05"/><circle cx="801.1" cy="1054.2" r="1.28"/><circle cx="812.6" cy="1054.8" r="0.97"/><circle cx="826.0" cy="1051.2" r="0.91"/><circle cx="830.1" cy="1048.8" r="0.97"/><circle cx="849.5" cy="1050.1" r="0.88"/><circle cx="863.0" cy="1053.1" r="0.86"/><circle cx="867.4" cy="1048.3" r="1.01"/><circle cx="889.0" cy="1057.6" r="1.13"/><circle cx="894.5" cy="1051.7" r="1.01"/><circle cx="658.1" cy="1059.5" r="1.11"/><circle cx="676.2" cy="1067.6" r="0.89"/><circle cx="685.3" cy="1061.3" r="1.17"/><circle cx="696.9" cy="1069.9" r="1.21"/><circle cx="705.7" cy="1062.9" r="1.26"/><circle cx="722.1" cy="1064.3" r="1.05"/><circle cx="738.0" cy="1069.9" r="1.09"/><circle cx="752.8" cy="1066.1" r="0.90"/><circle cx="763.5" cy="1064.1" r="0.87"/><circle cx="777.9" cy="1059.7" r="1.11"/><circle cx="784.8" cy="1069.3" r="1.03"/><circle cx="794.3" cy="1062.5" r="0.94"/><circle cx="810.7" cy="1063.4" r="1.19"/><circle cx="819.6" cy="1063.3" r="0.96"/><circle cx="840.4" cy="1068.8" r="1.23"/><circle cx="848.8" cy="1063.9" r="0.91"/><circle cx="863.7" cy="1064.9" r="0.87"/><circle cx="868.8" cy="1060.5" r="1.17"/><circle cx="889.5" cy="1061.6" r="1.21"/><circle cx="895.5" cy="1067.1" r="1.24"/><circle cx="661.4" cy="1080.9" r="1.02"/><circle cx="667.0" cy="1077.6" r="1.11"/><circle cx="681.5" cy="1076.3" r="0.99"/><circle cx="692.2" cy="1075.4" r="1.02"/><circle cx="709.7" cy="1079.8" r="1.03"/><circle cx="727.9" cy="1081.0" r="1.27"/><circle cx="737.2" cy="1079.4" r="1.09"/><circle cx="750.9" cy="1076.0" r="1.12"/><circle cx="762.0" cy="1077.7" r="0.98"/><circle cx="767.7" cy="1072.9" r="1.01"/><circle cx="785.9" cy="1080.4" r="1.17"/><circle cx="795.3" cy="1082.3" r="0.97"/><circle cx="812.4" cy="1072.7" r="1.19"/><circle cx="824.4" cy="1082.6" r="1.25"/><circle cx="837.1" cy="1081.3" r="1.18"/><circle cx="848.7" cy="1074.2" r="1.08"/><circle cx="864.5" cy="1074.6" r="1.29"/><circle cx="873.0" cy="1076.3" r="0.85"/><circle cx="883.8" cy="1073.9" r="1.14"/><circle cx="902.0" cy="1082.1" r="1.13"/><circle cx="658.7" cy="1085.6" r="1.16"/><circle cx="673.1" cy="1092.4" r="1.02"/><circle cx="689.4" cy="1086.8" r="0.99"/><circle cx="694.9" cy="1091.4" r="1.25"/><circle cx="706.3" cy="1091.5" r="1.19"/><circle cx="719.4" cy="1085.1" r="1.10"/><circle cx="738.7" cy="1094.3" r="1.18"/><circle cx="746.6" cy="1089.2" r="1.09"/><circle cx="764.6" cy="1087.8" r="0.98"/><circle cx="773.7" cy="1095.2" r="0.93"/><circle cx="779.7" cy="1085.7" r="1.10"/><circle cx="798.7" cy="1086.4" r="0.94"/><circle cx="811.1" cy="1091.6" r="1.16"/><circle cx="825.1" cy="1085.1" r="1.07"/><circle cx="838.8" cy="1095.1" r="0.99"/><circle cx="851.4" cy="1091.6" r="1.27"/><circle cx="857.0" cy="1092.2" r="1.23"/><circle cx="872.2" cy="1085.5" r="0.94"/><circle cx="881.1" cy="1085.4" r="0.92"/><circle cx="898.8" cy="1085.6" r="1.19"/><circle cx="662.7" cy="1106.1" r="1.21"/><circle cx="674.9" cy="1107.3" r="1.28"/><circle cx="686.4" cy="1107.7" r="0.90"/><circle cx="693.0" cy="1097.6" r="0.94"/><circle cx="708.6" cy="1102.0" r="1.16"/><circle cx="725.2" cy="1097.8" r="1.03"/><circle cx="735.5" cy="1101.1" r="0.90"/><circle cx="748.6" cy="1101.1" r="1.16"/><circle cx="759.9" cy="1107.7" r="1.28"/><circle cx="767.7" cy="1105.4" r="1.17"/><circle cx="782.7" cy="1098.2" r="1.07"/><circle cx="795.9" cy="1105.2" r="1.26"/><circle cx="808.7" cy="1100.1" r="1.07"/><circle cx="824.7" cy="1105.8" r="1.11"/><circle cx="832.7" cy="1100.7" r="1.23"/><circle cx="847.7" cy="1097.4" r="1.04"/><circle cx="857.1" cy="1104.4" r="0.88"/><circle cx="869.9" cy="1098.0" r="1.06"/><circle cx="890.5" cy="1103.0" r="1.02"/><circle cx="902.4" cy="1097.9" r="1.01"/><circle cx="663.5" cy="1109.4" r="1.19"/><circle cx="670.9" cy="1109.6" r="0.96"/><circle cx="684.5" cy="1113.7" r="1.08"/><circle cx="692.5" cy="1111.8" r="1.29"/><circle cx="709.4" cy="1114.7" r="0.89"/><circle cx="720.0" cy="1120.1" r="1.16"/><circle cx="735.1" cy="1110.0" r="1.03"/><circle cx="750.6" cy="1114.3" r="1.12"/><circle cx="764.5" cy="1116.6" r="1.14"/><circle cx="767.3" cy="1109.6" r="1.20"/><circle cx="784.0" cy="1119.2" r="1.22"/><circle cx="802.2" cy="1113.6" r="1.30"/><circle cx="812.9" cy="1119.4" r="0.92"/><circle cx="825.7" cy="1114.1" r="1.29"/><circle cx="840.6" cy="1111.8" r="1.04"/><circle cx="844.9" cy="1114.7" r="0.98"/><circle cx="861.9" cy="1110.8" r="0.93"/><circle cx="872.0" cy="1110.2" r="1.02"/><circle cx="889.5" cy="1119.3" r="0.94"/><circle cx="892.1" cy="1118.7" r="1.28"/><circle cx="661.1" cy="1123.4" r="0.96"/><circle cx="677.2" cy="1132.4" r="0.86"/><circle cx="681.5" cy="1126.7" r="0.97"/><circle cx="700.4" cy="1126.1" r="1.20"/><circle cx="706.1" cy="1127.7" r="1.29"/><circle cx="724.8" cy="1122.9" r="0.90"/><circle cx="736.6" cy="1126.1" r="1.02"/><circle cx="747.2" cy="1128.4" r="1.28"/><circle cx="757.1" cy="1128.3" r="0.97"/><circle cx="773.0" cy="1130.1" r="0.91"/><circle cx="784.8" cy="1129.8" r="0.85"/><circle cx="800.6" cy="1126.6" r="1.08"/><circle cx="811.2" cy="1130.8" r="0.88"/><circle cx="822.5" cy="1122.3" r="1.02"/><circle cx="833.3" cy="1122.1" r="0.98"/><circle cx="846.9" cy="1129.2" r="1.27"/><circle cx="858.5" cy="1127.8" r="1.17"/><circle cx="877.4" cy="1132.6" r="1.29"/><circle cx="882.8" cy="1123.7" r="1.27"/><circle cx="892.7" cy="1126.9" r="1.18"/></g></g>
<path d="M727 970.6 L742.7 970.6 C760 971 772 975 779.7 977 C783 977 787 975 792.5 973.4 C805 969 818 968 833.7 972.7 C842 978 848 990 850.8 1004 C852 1018 849 1030 842.2 1039.6 C835 1048 825 1051 813.8 1051 C805 1051 800 1050 798.2 1049.5 L759.7 1052.4 C752 1054 742 1053 735.6 1051 C725 1046 714 1035 711.4 1022.5 C709 1010 709 995 714 985 C717 979 722 974 727 970.6 Z" fill="#fff" stroke="none"/>
<g clip-path="url(#cTZ)"><g fill="#222"><circle cx="705.1" cy="964.5" r="0.68"/><circle cx="708.4" cy="965.2" r="0.65"/><circle cx="712.0" cy="964.4" r="0.55"/><circle cx="718.2" cy="963.7" r="0.54"/><circle cx="720.3" cy="963.2" r="0.50"/><circle cx="725.0" cy="967.0" r="0.48"/><circle cx="729.8" cy="966.2" r="0.62"/><circle cx="734.1" cy="966.4" r="0.59"/><circle cx="738.9" cy="965.6" r="0.47"/><circle cx="742.7" cy="966.6" r="0.53"/><circle cx="749.7" cy="963.6" r="0.44"/><circle cx="750.4" cy="966.0" r="0.57"/><circle cx="754.5" cy="963.0" r="0.65"/><circle cx="760.9" cy="966.6" r="0.41"/><circle cx="765.6" cy="963.4" r="0.62"/><circle cx="770.0" cy="965.5" r="0.47"/><circle cx="775.7" cy="963.3" r="0.42"/><circle cx="778.9" cy="963.2" r="0.42"/><circle cx="782.2" cy="965.6" r="0.67"/><circle cx="787.6" cy="963.1" r="0.59"/><circle cx="792.5" cy="963.4" r="0.63"/><circle cx="794.3" cy="964.1" r="0.40"/><circle cx="800.7" cy="965.1" r="0.67"/><circle cx="803.8" cy="963.5" r="0.46"/><circle cx="807.2" cy="966.9" r="0.46"/><circle cx="810.7" cy="964.4" r="0.42"/><circle cx="816.5" cy="965.5" r="0.60"/><circle cx="819.7" cy="963.4" r="0.55"/><circle cx="826.2" cy="964.8" r="0.57"/><circle cx="831.5" cy="963.5" r="0.48"/><circle cx="834.0" cy="965.2" r="0.67"/><circle cx="838.5" cy="965.7" r="0.53"/><circle cx="843.8" cy="966.4" r="0.49"/><circle cx="845.2" cy="964.0" r="0.51"/><circle cx="852.9" cy="964.0" r="0.59"/><circle cx="705.6" cy="971.3" r="0.43"/><circle cx="710.5" cy="968.6" r="0.43"/><circle cx="714.2" cy="970.8" r="0.57"/><circle cx="716.0" cy="971.3" r="0.52"/><circle cx="722.8" cy="970.3" r="0.48"/><circle cx="726.1" cy="968.6" r="0.43"/><circle cx="728.9" cy="970.2" r="0.52"/><circle cx="736.7" cy="967.4" r="0.49"/><circle cx="738.0" cy="971.2" r="0.64"/><circle cx="745.4" cy="969.3" r="0.43"/><circle cx="747.6" cy="968.1" r="0.41"/><circle cx="752.6" cy="968.4" r="0.43"/><circle cx="756.6" cy="971.2" r="0.68"/><circle cx="760.8" cy="967.6" r="0.63"/><circle cx="763.5" cy="969.5" r="0.43"/><circle cx="771.6" cy="969.5" r="0.53"/><circle cx="772.8" cy="969.5" r="0.69"/><circle cx="777.8" cy="968.0" r="0.55"/><circle cx="784.2" cy="968.8" r="0.59"/><circle cx="788.5" cy="968.6" r="0.64"/><circle cx="791.1" cy="967.7" r="0.42"/><circle cx="797.2" cy="969.2" r="0.53"/><circle cx="801.4" cy="969.6" r="0.55"/><circle cx="803.0" cy="970.3" r="0.48"/><circle cx="808.1" cy="970.4" r="0.58"/><circle cx="810.9" cy="968.0" r="0.61"/><circle cx="817.8" cy="967.6" r="0.70"/><circle cx="819.5" cy="967.9" r="0.43"/><circle cx="825.2" cy="969.8" r="0.66"/><circle cx="828.3" cy="970.2" r="0.43"/><circle cx="834.3" cy="968.2" r="0.51"/><circle cx="836.4" cy="970.2" r="0.44"/><circle cx="843.7" cy="968.6" r="0.58"/><circle cx="847.5" cy="969.3" r="0.66"/><circle cx="853.0" cy="968.4" r="0.50"/><circle cx="706.6" cy="972.0" r="0.53"/><circle cx="708.9" cy="975.6" r="0.44"/><circle cx="714.3" cy="974.7" r="0.62"/><circle cx="715.8" cy="975.5" r="0.49"/><circle cx="723.7" cy="974.3" r="0.53"/><circle cx="728.0" cy="974.4" r="0.50"/><circle cx="731.8" cy="973.6" r="0.61"/><circle cx="735.6" cy="974.9" r="0.45"/><circle cx="739.4" cy="971.5" r="0.64"/><circle cx="744.9" cy="975.0" r="0.41"/><circle cx="748.2" cy="973.5" r="0.44"/><circle cx="751.0" cy="975.6" r="0.66"/><circle cx="755.5" cy="975.0" r="0.60"/><circle cx="760.4" cy="974.2" r="0.47"/><circle cx="764.2" cy="971.5" r="0.60"/><circle cx="769.9" cy="974.6" r="0.55"/><circle cx="773.5" cy="972.8" r="0.62"/><circle cx="777.6" cy="974.0" r="0.63"/><circle cx="782.2" cy="974.4" r="0.42"/><circle cx="785.7" cy="975.1" r="0.44"/><circle cx="789.1" cy="971.5" r="0.63"/><circle cx="793.6" cy="973.4" r="0.53"/><circle cx="800.9" cy="973.5" r="0.56"/><circle cx="801.9" cy="974.9" r="0.63"/><circle cx="808.7" cy="975.0" r="0.58"/><circle cx="813.4" cy="975.1" r="0.59"/><circle cx="814.7" cy="975.3" r="0.70"/><circle cx="819.8" cy="971.7" r="0.50"/><circle cx="823.7" cy="973.0" r="0.43"/><circle cx="828.5" cy="971.5" r="0.53"/><circle cx="833.1" cy="974.6" r="0.52"/><circle cx="836.9" cy="975.5" r="0.67"/><circle cx="843.4" cy="972.4" r="0.52"/><circle cx="846.7" cy="973.2" r="0.41"/><circle cx="851.0" cy="974.8" r="0.61"/><circle cx="706.5" cy="978.7" r="0.63"/><circle cx="710.9" cy="979.7" r="0.64"/><circle cx="713.2" cy="978.6" r="0.60"/><circle cx="719.5" cy="978.8" r="0.53"/><circle cx="720.9" cy="977.2" r="0.48"/><circle cx="727.3" cy="979.1" r="0.46"/><circle cx="730.9" cy="979.4" r="0.51"/><circle cx="733.4" cy="978.4" r="0.51"/><circle cx="737.9" cy="977.0" r="0.40"/><circle cx="742.2" cy="977.6" r="0.43"/><circle cx="745.9" cy="978.1" r="0.69"/><circle cx="753.7" cy="977.2" r="0.68"/><circle cx="754.8" cy="976.4" r="0.40"/><circle cx="759.0" cy="978.3" r="0.63"/><circle cx="765.1" cy="979.2" r="0.54"/><circle cx="771.3" cy="978.4" r="0.56"/><circle cx="772.4" cy="977.6" r="0.53"/><circle cx="779.5" cy="976.7" r="0.49"/><circle cx="783.8" cy="976.1" r="0.56"/><circle cx="785.5" cy="978.6" r="0.58"/><circle cx="789.3" cy="978.9" r="0.52"/><circle cx="794.5" cy="979.4" r="0.63"/><circle cx="798.8" cy="978.7" r="0.44"/><circle cx="804.0" cy="976.1" r="0.59"/><circle cx="810.0" cy="978.5" r="0.41"/><circle cx="812.6" cy="977.8" r="0.53"/><circle cx="815.3" cy="976.9" r="0.53"/><circle cx="819.3" cy="978.6" r="0.47"/><circle cx="824.5" cy="976.1" r="0.49"/><circle cx="831.6" cy="977.0" r="0.43"/><circle cx="833.3" cy="979.8" r="0.43"/><circle cx="837.6" cy="976.6" r="0.60"/><circle cx="842.4" cy="976.2" r="0.66"/><circle cx="846.2" cy="978.7" r="0.54"/><circle cx="852.8" cy="976.0" r="0.47"/><circle cx="704.1" cy="981.2" r="0.65"/><circle cx="709.3" cy="981.5" r="0.55"/><circle cx="715.1" cy="982.5" r="0.54"/><circle cx="718.6" cy="982.7" r="0.52"/><circle cx="721.9" cy="980.6" r="0.53"/><circle cx="728.1" cy="981.4" r="0.51"/><circle cx="731.2" cy="982.6" r="0.45"/><circle cx="734.9" cy="983.2" r="0.41"/><circle cx="737.7" cy="983.3" r="0.67"/><circle cx="741.8" cy="980.4" r="0.59"/><circle cx="747.1" cy="982.9" r="0.41"/><circle cx="752.1" cy="980.7" r="0.50"/><circle cx="757.4" cy="982.2" r="0.66"/><circle cx="762.4" cy="982.7" r="0.65"/><circle cx="763.8" cy="982.1" r="0.50"/><circle cx="770.0" cy="980.5" r="0.67"/><circle cx="773.2" cy="983.4" r="0.68"/><circle cx="780.0" cy="981.7" r="0.66"/><circle cx="784.5" cy="980.6" r="0.62"/><circle cx="787.7" cy="982.0" r="0.48"/><circle cx="789.6" cy="981.8" r="0.68"/><circle cx="794.9" cy="981.1" r="0.59"/><circle cx="799.3" cy="982.7" r="0.54"/><circle cx="803.0" cy="980.2" r="0.65"/><circle cx="808.9" cy="981.1" r="0.55"/><circle cx="812.8" cy="982.2" r="0.67"/><circle cx="818.0" cy="981.4" r="0.50"/><circle cx="821.6" cy="980.7" r="0.68"/><circle cx="823.4" cy="982.2" r="0.48"/><circle cx="829.8" cy="980.2" r="0.47"/><circle cx="836.1" cy="983.4" r="0.47"/><circle cx="838.1" cy="980.2" r="0.44"/><circle cx="841.3" cy="984.3" r="0.49"/><circle cx="845.8" cy="980.3" r="0.43"/><circle cx="853.3" cy="983.2" r="0.68"/><circle cx="706.4" cy="987.7" r="0.48"/><circle cx="707.9" cy="985.5" r="0.42"/><circle cx="712.2" cy="987.4" r="0.55"/><circle cx="715.8" cy="985.7" r="0.65"/><circle cx="723.7" cy="987.5" r="0.62"/><circle cx="728.3" cy="986.7" r="0.51"/><circle cx="731.1" cy="985.6" r="0.41"/><circle cx="734.1" cy="986.3" r="0.44"/><circle cx="737.6" cy="985.4" r="0.51"/><circle cx="745.7" cy="986.4" r="0.65"/><circle cx="749.1" cy="986.9" r="0.50"/><circle cx="751.8" cy="985.7" r="0.59"/><circle cx="758.1" cy="987.7" r="0.49"/><circle cx="759.4" cy="984.4" r="0.58"/><circle cx="764.0" cy="984.4" r="0.49"/><circle cx="768.3" cy="985.2" r="0.60"/><circle cx="774.2" cy="985.6" r="0.62"/><circle cx="776.8" cy="988.3" r="0.44"/><circle cx="782.8" cy="987.4" r="0.62"/><circle cx="786.6" cy="988.1" r="0.59"/><circle cx="791.8" cy="984.7" r="0.46"/><circle cx="795.2" cy="986.7" r="0.43"/><circle cx="800.6" cy="985.8" r="0.54"/><circle cx="804.0" cy="988.0" r="0.49"/><circle cx="808.5" cy="987.0" r="0.60"/><circle cx="811.7" cy="985.6" r="0.54"/><circle cx="817.2" cy="987.1" r="0.44"/><circle cx="820.9" cy="986.8" r="0.46"/><circle cx="823.7" cy="988.3" r="0.41"/><circle cx="829.7" cy="985.6" r="0.41"/><circle cx="833.0" cy="985.0" r="0.52"/><circle cx="840.1" cy="984.7" r="0.51"/><circle cx="843.4" cy="987.0" r="0.41"/><circle cx="845.7" cy="985.6" r="0.67"/><circle cx="851.0" cy="985.5" r="0.54"/><circle cx="704.9" cy="989.3" r="0.60"/><circle cx="710.2" cy="990.7" r="0.56"/><circle cx="714.8" cy="992.8" r="0.58"/><circle cx="715.9" cy="990.8" r="0.60"/><circle cx="721.5" cy="991.6" r="0.51"/><circle cx="727.0" cy="991.3" r="0.60"/><circle cx="732.6" cy="991.7" r="0.61"/><circle cx="736.0" cy="989.6" r="0.58"/><circle cx="739.9" cy="988.9" r="0.63"/><circle cx="742.5" cy="990.8" r="0.56"/><circle cx="749.0" cy="991.9" r="0.54"/><circle cx="754.2" cy="990.6" r="0.57"/><circle cx="758.7" cy="990.0" r="0.61"/><circle cx="762.9" cy="989.0" r="0.63"/><circle cx="765.9" cy="991.0" r="0.64"/><circle cx="771.0" cy="989.3" r="0.55"/><circle cx="774.3" cy="991.7" r="0.69"/><circle cx="779.4" cy="992.2" r="0.42"/><circle cx="782.1" cy="992.6" r="0.68"/><circle cx="787.8" cy="990.1" r="0.63"/><circle cx="791.1" cy="991.5" r="0.59"/><circle cx="796.9" cy="991.7" r="0.69"/><circle cx="799.6" cy="990.8" r="0.60"/><circle cx="804.2" cy="988.9" r="0.69"/><circle cx="807.4" cy="990.8" r="0.41"/><circle cx="811.2" cy="992.6" r="0.48"/><circle cx="815.9" cy="992.1" r="0.47"/><circle cx="821.8" cy="991.1" r="0.67"/><circle cx="825.3" cy="990.1" r="0.48"/><circle cx="829.1" cy="988.7" r="0.44"/><circle cx="832.5" cy="990.0" r="0.63"/><circle cx="840.2" cy="990.2" r="0.47"/><circle cx="841.7" cy="991.4" r="0.54"/><circle cx="845.3" cy="990.9" r="0.48"/><circle cx="849.7" cy="992.0" r="0.43"/><circle cx="704.7" cy="996.2" r="0.56"/><circle cx="710.9" cy="994.3" r="0.68"/><circle cx="711.6" cy="996.8" r="0.53"/><circle cx="715.8" cy="994.1" r="0.70"/><circle cx="723.1" cy="996.1" r="0.64"/><circle cx="724.4" cy="994.3" r="0.54"/><circle cx="732.6" cy="996.9" r="0.44"/><circle cx="737.2" cy="995.3" r="0.49"/><circle cx="737.6" cy="994.8" r="0.56"/><circle cx="743.5" cy="994.3" r="0.68"/><circle cx="747.9" cy="994.3" r="0.63"/><circle cx="751.2" cy="994.8" r="0.43"/><circle cx="755.5" cy="997.2" r="0.59"/><circle cx="761.0" cy="995.8" r="0.60"/><circle cx="765.3" cy="994.5" r="0.44"/><circle cx="767.5" cy="993.5" r="0.52"/><circle cx="771.7" cy="995.9" r="0.50"/><circle cx="777.0" cy="994.3" r="0.55"/><circle cx="781.2" cy="996.6" r="0.54"/><circle cx="784.8" cy="993.3" r="0.67"/><circle cx="791.3" cy="994.2" r="0.61"/><circle cx="793.3" cy="996.8" r="0.68"/><circle cx="800.3" cy="993.2" r="0.53"/><circle cx="805.3" cy="995.5" r="0.46"/><circle cx="807.1" cy="993.2" r="0.56"/><circle cx="811.1" cy="994.9" r="0.67"/><circle cx="818.5" cy="995.1" r="0.64"/><circle cx="819.5" cy="997.0" r="0.66"/><circle cx="825.3" cy="996.8" r="0.49"/><circle cx="831.8" cy="994.3" r="0.68"/><circle cx="835.4" cy="997.0" r="0.62"/><circle cx="836.5" cy="994.2" r="0.60"/><circle cx="844.4" cy="995.9" r="0.41"/><circle cx="846.2" cy="994.4" r="0.45"/><circle cx="850.0" cy="995.2" r="0.51"/><circle cx="704.0" cy="999.0" r="0.68"/><circle cx="709.7" cy="1000.5" r="0.68"/><circle cx="711.6" cy="1001.0" r="0.43"/><circle cx="716.6" cy="1000.4" r="0.63"/><circle cx="722.7" cy="999.3" r="0.62"/><circle cx="726.2" cy="998.1" r="0.47"/><circle cx="729.1" cy="997.4" r="0.69"/><circle cx="737.0" cy="998.7" r="0.52"/><circle cx="738.4" cy="1000.6" r="0.55"/><circle cx="742.3" cy="1001.1" r="0.68"/><circle cx="746.0" cy="999.2" r="0.47"/><circle cx="752.9" cy="998.8" r="0.49"/><circle cx="755.8" cy="999.9" r="0.55"/><circle cx="760.8" cy="1000.2" r="0.54"/><circle cx="767.1" cy="999.1" r="0.64"/><circle cx="771.4" cy="999.9" r="0.58"/><circle cx="775.0" cy="1000.3" r="0.46"/><circle cx="777.7" cy="997.9" r="0.41"/><circle cx="783.2" cy="998.7" r="0.48"/><circle cx="784.7" cy="997.3" r="0.60"/><circle cx="790.4" cy="999.1" r="0.60"/><circle cx="797.1" cy="1000.3" r="0.47"/><circle cx="801.7" cy="998.0" r="0.57"/><circle cx="804.5" cy="998.5" r="0.67"/><circle cx="808.7" cy="1000.3" r="0.44"/><circle cx="813.9" cy="998.5" r="0.59"/><circle cx="817.8" cy="998.6" r="0.48"/><circle cx="820.4" cy="1001.5" r="0.60"/><circle cx="825.3" cy="999.7" r="0.60"/><circle cx="828.7" cy="997.6" r="0.43"/><circle cx="834.4" cy="999.8" r="0.69"/><circle cx="838.8" cy="1000.9" r="0.70"/><circle cx="842.6" cy="999.1" r="0.54"/><circle cx="846.3" cy="1000.5" r="0.57"/><circle cx="849.6" cy="1001.4" r="0.56"/><circle cx="706.1" cy="1003.9" r="0.58"/><circle cx="709.6" cy="1002.0" r="0.44"/><circle cx="714.6" cy="1003.1" r="0.44"/><circle cx="719.3" cy="1004.8" r="0.63"/><circle cx="721.7" cy="1002.1" r="0.63"/><circle cx="725.3" cy="1004.4" r="0.61"/><circle cx="729.8" cy="1001.6" r="0.58"/><circle cx="736.3" cy="1004.1" r="0.70"/><circle cx="738.2" cy="1004.7" r="0.53"/><circle cx="744.0" cy="1002.8" r="0.47"/><circle cx="748.2" cy="1004.2" r="0.67"/><circle cx="752.7" cy="1003.7" r="0.60"/><circle cx="757.2" cy="1003.3" r="0.48"/><circle cx="761.7" cy="1003.2" r="0.41"/><circle cx="763.8" cy="1003.1" r="0.61"/><circle cx="770.2" cy="1003.7" r="0.64"/><circle cx="773.1" cy="1003.1" r="0.63"/><circle cx="778.9" cy="1003.4" r="0.67"/><circle cx="780.4" cy="1003.9" r="0.66"/><circle cx="788.3" cy="1002.4" r="0.64"/><circle cx="791.1" cy="1005.6" r="0.50"/><circle cx="796.0" cy="1004.3" r="0.70"/><circle cx="798.9" cy="1003.2" r="0.44"/><circle cx="804.7" cy="1001.9" r="0.65"/><circle cx="806.7" cy="1002.4" r="0.68"/><circle cx="812.5" cy="1004.8" r="0.50"/><circle cx="815.7" cy="1003.1" r="0.69"/><circle cx="819.8" cy="1005.4" r="0.66"/><circle cx="826.2" cy="1002.7" r="0.62"/><circle cx="831.4" cy="1004.1" r="0.47"/><circle cx="834.5" cy="1005.7" r="0.58"/><circle cx="836.8" cy="1002.4" r="0.59"/><circle cx="840.7" cy="1001.6" r="0.51"/><circle cx="845.9" cy="1003.7" r="0.42"/><circle cx="851.5" cy="1004.5" r="0.50"/><circle cx="705.4" cy="1008.1" r="0.64"/><circle cx="709.6" cy="1008.6" r="0.57"/><circle cx="715.0" cy="1006.3" r="0.43"/><circle cx="719.5" cy="1009.4" r="0.40"/><circle cx="723.9" cy="1008.5" r="0.66"/><circle cx="727.4" cy="1007.5" r="0.43"/><circle cx="731.9" cy="1008.9" r="0.54"/><circle cx="734.1" cy="1007.4" r="0.68"/><circle cx="739.2" cy="1006.8" r="0.70"/><circle cx="745.8" cy="1006.6" r="0.46"/><circle cx="749.0" cy="1007.5" r="0.54"/><circle cx="753.1" cy="1007.0" r="0.58"/><circle cx="755.3" cy="1006.8" r="0.56"/><circle cx="760.6" cy="1009.7" r="0.44"/><circle cx="767.0" cy="1007.0" r="0.50"/><circle cx="767.8" cy="1007.2" r="0.69"/><circle cx="773.2" cy="1009.4" r="0.69"/><circle cx="778.9" cy="1006.6" r="0.53"/><circle cx="781.0" cy="1006.9" r="0.50"/><circle cx="785.3" cy="1008.8" r="0.56"/><circle cx="790.1" cy="1006.9" r="0.44"/><circle cx="793.6" cy="1007.7" r="0.42"/><circle cx="799.7" cy="1006.9" r="0.63"/><circle cx="802.9" cy="1009.5" r="0.68"/><circle cx="810.0" cy="1006.8" r="0.68"/><circle cx="812.4" cy="1009.7" r="0.54"/><circle cx="817.0" cy="1007.0" r="0.63"/><circle cx="820.5" cy="1009.7" r="0.61"/><circle cx="825.1" cy="1006.0" r="0.48"/><circle cx="829.3" cy="1007.4" r="0.57"/><circle cx="831.9" cy="1007.9" r="0.67"/><circle cx="840.2" cy="1008.8" r="0.61"/><circle cx="843.0" cy="1010.1" r="0.64"/><circle cx="846.7" cy="1008.0" r="0.68"/><circle cx="851.4" cy="1008.4" r="0.49"/><circle cx="705.7" cy="1012.3" r="0.68"/><circle cx="711.4" cy="1014.4" r="0.69"/><circle cx="711.6" cy="1010.5" r="0.50"/><circle cx="719.3" cy="1012.6" r="0.48"/><circle cx="720.5" cy="1011.2" r="0.44"/><circle cx="725.0" cy="1013.4" r="0.46"/><circle cx="729.4" cy="1012.8" r="0.44"/><circle cx="736.5" cy="1012.9" r="0.66"/><circle cx="740.4" cy="1013.3" r="0.48"/><circle cx="743.4" cy="1011.8" r="0.52"/><circle cx="749.8" cy="1012.0" r="0.64"/><circle cx="752.9" cy="1010.5" r="0.46"/><circle cx="756.9" cy="1013.5" r="0.47"/><circle cx="759.8" cy="1011.8" r="0.54"/><circle cx="764.9" cy="1014.1" r="0.58"/><circle cx="768.5" cy="1011.6" r="0.55"/><circle cx="772.3" cy="1011.8" r="0.42"/><circle cx="778.8" cy="1013.9" r="0.67"/><circle cx="782.8" cy="1011.8" r="0.57"/><circle cx="786.9" cy="1010.9" r="0.56"/><circle cx="791.0" cy="1011.0" r="0.53"/><circle cx="796.7" cy="1012.9" r="0.50"/><circle cx="798.5" cy="1012.9" r="0.57"/><circle cx="803.0" cy="1012.2" r="0.52"/><circle cx="808.7" cy="1013.9" r="0.51"/><circle cx="812.7" cy="1012.6" r="0.60"/><circle cx="815.7" cy="1011.2" r="0.68"/><circle cx="819.6" cy="1013.1" r="0.48"/><circle cx="825.4" cy="1012.1" r="0.47"/><circle cx="828.3" cy="1014.3" r="0.41"/><circle cx="832.5" cy="1013.3" r="0.51"/><circle cx="837.0" cy="1013.5" r="0.69"/><circle cx="841.3" cy="1013.2" r="0.52"/><circle cx="849.0" cy="1012.7" r="0.67"/><circle cx="851.9" cy="1010.7" r="0.53"/><circle cx="705.9" cy="1015.1" r="0.43"/><circle cx="711.4" cy="1018.4" r="0.60"/><circle cx="711.7" cy="1017.5" r="0.70"/><circle cx="719.1" cy="1017.5" r="0.53"/><circle cx="722.8" cy="1018.4" r="0.55"/><circle cx="724.7" cy="1015.1" r="0.69"/><circle cx="731.7" cy="1018.5" r="0.44"/><circle cx="733.4" cy="1017.4" r="0.53"/><circle cx="739.2" cy="1015.5" r="0.63"/><circle cx="744.9" cy="1017.6" r="0.53"/><circle cx="748.0" cy="1016.2" r="0.54"/><circle cx="751.6" cy="1016.5" r="0.69"/><circle cx="757.9" cy="1015.0" r="0.60"/><circle cx="762.3" cy="1015.9" r="0.67"/><circle cx="767.1" cy="1014.8" r="0.59"/><circle cx="769.0" cy="1016.5" r="0.56"/><circle cx="775.3" cy="1017.2" r="0.67"/><circle cx="777.0" cy="1017.9" r="0.52"/><circle cx="781.0" cy="1017.9" r="0.57"/><circle cx="785.5" cy="1018.3" r="0.55"/><circle cx="791.7" cy="1018.7" r="0.50"/><circle cx="795.5" cy="1016.8" r="0.49"/><circle cx="799.7" cy="1018.6" r="0.61"/><circle cx="802.9" cy="1017.4" r="0.58"/><circle cx="807.6" cy="1017.3" r="0.51"/><circle cx="813.7" cy="1016.1" r="0.65"/><circle cx="815.9" cy="1015.2" r="0.50"/><circle cx="819.5" cy="1018.2" r="0.70"/><circle cx="825.0" cy="1015.5" r="0.66"/><circle cx="831.2" cy="1015.5" r="0.49"/><circle cx="834.0" cy="1015.0" r="0.46"/><circle cx="837.9" cy="1015.0" r="0.44"/><circle cx="843.1" cy="1015.7" r="0.67"/><circle cx="848.9" cy="1017.3" r="0.48"/><circle cx="852.3" cy="1015.9" r="0.66"/><circle cx="704.7" cy="1021.7" r="0.63"/><circle cx="710.2" cy="1022.0" r="0.50"/><circle cx="712.1" cy="1020.3" r="0.69"/><circle cx="715.9" cy="1020.0" r="0.49"/><circle cx="721.9" cy="1022.5" r="0.45"/><circle cx="724.8" cy="1018.8" r="0.50"/><circle cx="731.8" cy="1020.7" r="0.59"/><circle cx="735.2" cy="1020.3" r="0.52"/><circle cx="737.4" cy="1022.8" r="0.62"/><circle cx="742.0" cy="1019.6" r="0.63"/><circle cx="748.0" cy="1022.0" r="0.63"/><circle cx="750.8" cy="1022.3" r="0.46"/><circle cx="755.0" cy="1022.0" r="0.64"/><circle cx="760.1" cy="1020.4" r="0.62"/><circle cx="764.3" cy="1020.7" r="0.70"/><circle cx="767.9" cy="1022.8" r="0.67"/><circle cx="775.9" cy="1019.8" r="0.46"/><circle cx="777.8" cy="1019.5" r="0.68"/><circle cx="782.7" cy="1022.4" r="0.55"/><circle cx="786.7" cy="1022.9" r="0.44"/><circle cx="789.8" cy="1022.4" r="0.58"/><circle cx="796.5" cy="1023.0" r="0.63"/><circle cx="800.1" cy="1022.0" r="0.56"/><circle cx="802.7" cy="1020.1" r="0.68"/><circle cx="808.3" cy="1018.9" r="0.59"/><circle cx="814.6" cy="1021.4" r="0.55"/><circle cx="816.6" cy="1021.5" r="0.58"/><circle cx="821.0" cy="1022.6" r="0.67"/><circle cx="826.6" cy="1021.9" r="0.62"/><circle cx="828.4" cy="1020.9" r="0.48"/><circle cx="832.7" cy="1022.8" r="0.47"/><circle cx="839.7" cy="1022.3" r="0.52"/><circle cx="840.6" cy="1019.5" r="0.59"/><circle cx="847.8" cy="1020.3" r="0.58"/><circle cx="849.8" cy="1021.6" r="0.63"/><circle cx="706.2" cy="1025.5" r="0.57"/><circle cx="707.2" cy="1024.2" r="0.52"/><circle cx="711.8" cy="1023.4" r="0.69"/><circle cx="718.7" cy="1025.5" r="0.61"/><circle cx="723.8" cy="1025.8" r="0.53"/><circle cx="726.0" cy="1027.2" r="0.69"/><circle cx="729.3" cy="1026.6" r="0.59"/><circle cx="734.4" cy="1026.0" r="0.48"/><circle cx="740.5" cy="1025.5" r="0.58"/><circle cx="741.8" cy="1026.9" r="0.69"/><circle cx="749.1" cy="1024.3" r="0.62"/><circle cx="750.7" cy="1025.4" r="0.50"/><circle cx="756.5" cy="1024.3" r="0.42"/><circle cx="760.6" cy="1024.1" r="0.45"/><circle cx="764.5" cy="1023.6" r="0.41"/><circle cx="771.5" cy="1023.3" r="0.67"/><circle cx="773.5" cy="1023.6" r="0.53"/><circle cx="778.1" cy="1023.3" r="0.56"/><circle cx="780.3" cy="1024.3" r="0.61"/><circle cx="788.2" cy="1023.8" r="0.52"/><circle cx="792.9" cy="1024.4" r="0.44"/><circle cx="794.2" cy="1026.8" r="0.50"/><circle cx="800.3" cy="1027.1" r="0.59"/><circle cx="802.6" cy="1025.1" r="0.50"/><circle cx="808.1" cy="1025.7" r="0.69"/><circle cx="813.3" cy="1025.2" r="0.64"/><circle cx="816.8" cy="1023.9" r="0.60"/><circle cx="820.1" cy="1024.0" r="0.52"/><circle cx="825.3" cy="1023.2" r="0.51"/><circle cx="831.7" cy="1025.2" r="0.51"/><circle cx="833.8" cy="1026.1" r="0.55"/><circle cx="837.9" cy="1025.5" r="0.48"/><circle cx="843.4" cy="1024.9" r="0.61"/><circle cx="846.2" cy="1025.8" r="0.46"/><circle cx="851.1" cy="1025.2" r="0.40"/><circle cx="703.4" cy="1029.3" r="0.63"/><circle cx="710.6" cy="1031.0" r="0.64"/><circle cx="715.6" cy="1028.2" r="0.45"/><circle cx="716.3" cy="1030.8" r="0.46"/><circle cx="721.4" cy="1027.9" r="0.67"/><circle cx="725.3" cy="1028.4" r="0.58"/><circle cx="731.7" cy="1027.5" r="0.57"/><circle cx="735.2" cy="1029.7" r="0.55"/><circle cx="740.7" cy="1030.9" r="0.66"/><circle cx="743.0" cy="1027.5" r="0.54"/><circle cx="746.0" cy="1030.1" r="0.54"/><circle cx="753.4" cy="1030.9" r="0.62"/><circle cx="757.4" cy="1028.8" r="0.62"/><circle cx="761.5" cy="1028.3" r="0.66"/><circle cx="765.1" cy="1029.6" r="0.46"/><circle cx="770.9" cy="1029.4" r="0.62"/><circle cx="775.3" cy="1029.6" r="0.58"/><circle cx="777.9" cy="1028.4" r="0.64"/><circle cx="784.2" cy="1027.5" r="0.41"/><circle cx="786.6" cy="1027.7" r="0.53"/><circle cx="790.3" cy="1028.4" r="0.63"/><circle cx="795.7" cy="1031.3" r="0.46"/><circle cx="799.1" cy="1030.0" r="0.63"/><circle cx="803.6" cy="1028.1" r="0.52"/><circle cx="808.5" cy="1031.5" r="0.60"/><circle cx="814.0" cy="1030.9" r="0.53"/><circle cx="816.8" cy="1030.9" r="0.62"/><circle cx="820.7" cy="1028.2" r="0.62"/><circle cx="824.5" cy="1028.5" r="0.48"/><circle cx="830.5" cy="1030.1" r="0.68"/><circle cx="834.4" cy="1029.4" r="0.67"/><circle cx="836.7" cy="1029.9" r="0.70"/><circle cx="841.9" cy="1028.0" r="0.43"/><circle cx="844.9" cy="1030.5" r="0.52"/><circle cx="852.6" cy="1030.9" r="0.41"/><circle cx="704.2" cy="1032.8" r="0.48"/><circle cx="707.3" cy="1032.7" r="0.50"/><circle cx="713.4" cy="1033.9" r="0.70"/><circle cx="716.2" cy="1032.2" r="0.67"/><circle cx="721.3" cy="1034.0" r="0.49"/><circle cx="728.2" cy="1035.7" r="0.57"/><circle cx="729.1" cy="1033.2" r="0.61"/><circle cx="735.4" cy="1032.9" r="0.52"/><circle cx="737.5" cy="1033.4" r="0.65"/><circle cx="743.2" cy="1033.7" r="0.45"/><circle cx="748.9" cy="1033.4" r="0.52"/><circle cx="753.5" cy="1032.9" r="0.42"/><circle cx="757.2" cy="1034.8" r="0.42"/><circle cx="760.2" cy="1035.5" r="0.55"/><circle cx="764.8" cy="1032.2" r="0.49"/><circle cx="769.9" cy="1035.6" r="0.60"/><circle cx="775.8" cy="1033.4" r="0.42"/><circle cx="777.4" cy="1033.2" r="0.42"/><circle cx="780.6" cy="1035.6" r="0.67"/><circle cx="785.1" cy="1032.0" r="0.69"/><circle cx="789.6" cy="1032.9" r="0.47"/><circle cx="794.0" cy="1031.8" r="0.54"/><circle cx="800.8" cy="1032.0" r="0.55"/><circle cx="802.3" cy="1035.0" r="0.67"/><circle cx="809.8" cy="1033.9" r="0.44"/><circle cx="813.4" cy="1031.9" r="0.63"/><circle cx="815.9" cy="1035.5" r="0.49"/><circle cx="822.1" cy="1033.8" r="0.47"/><circle cx="825.4" cy="1033.5" r="0.45"/><circle cx="829.9" cy="1033.9" r="0.61"/><circle cx="833.3" cy="1034.3" r="0.46"/><circle cx="838.4" cy="1032.7" r="0.64"/><circle cx="841.3" cy="1032.9" r="0.42"/><circle cx="846.0" cy="1034.0" r="0.47"/><circle cx="849.6" cy="1035.5" r="0.49"/><circle cx="703.8" cy="1037.7" r="0.65"/><circle cx="710.4" cy="1039.8" r="0.56"/><circle cx="712.9" cy="1038.1" r="0.42"/><circle cx="718.7" cy="1039.6" r="0.67"/><circle cx="723.6" cy="1038.7" r="0.64"/><circle cx="725.6" cy="1038.4" r="0.45"/><circle cx="732.7" cy="1038.2" r="0.45"/><circle cx="737.2" cy="1038.6" r="0.46"/><circle cx="740.9" cy="1038.6" r="0.59"/><circle cx="745.3" cy="1037.3" r="0.48"/><circle cx="748.3" cy="1036.8" r="0.61"/><circle cx="752.2" cy="1036.8" r="0.44"/><circle cx="755.1" cy="1038.4" r="0.67"/><circle cx="762.2" cy="1039.6" r="0.57"/><circle cx="766.5" cy="1037.4" r="0.51"/><circle cx="771.2" cy="1037.1" r="0.59"/><circle cx="774.1" cy="1036.2" r="0.57"/><circle cx="779.4" cy="1039.8" r="0.53"/><circle cx="784.1" cy="1036.1" r="0.67"/><circle cx="787.5" cy="1039.4" r="0.53"/><circle cx="791.4" cy="1039.5" r="0.47"/><circle cx="793.9" cy="1039.2" r="0.66"/><circle cx="798.4" cy="1038.3" r="0.55"/><circle cx="803.1" cy="1039.6" r="0.48"/><circle cx="809.4" cy="1037.7" r="0.44"/><circle cx="814.5" cy="1036.6" r="0.43"/><circle cx="814.8" cy="1037.5" r="0.41"/><circle cx="819.6" cy="1040.0" r="0.48"/><circle cx="826.3" cy="1036.9" r="0.40"/><circle cx="827.6" cy="1036.5" r="0.69"/><circle cx="833.8" cy="1037.0" r="0.41"/><circle cx="838.9" cy="1037.3" r="0.45"/><circle cx="842.3" cy="1039.0" r="0.50"/><circle cx="847.2" cy="1036.8" r="0.57"/><circle cx="849.2" cy="1039.9" r="0.68"/><circle cx="705.3" cy="1042.3" r="0.52"/><circle cx="710.4" cy="1042.7" r="0.61"/><circle cx="713.4" cy="1042.0" r="0.62"/><circle cx="716.5" cy="1041.7" r="0.47"/><circle cx="720.9" cy="1044.0" r="0.49"/><circle cx="727.5" cy="1040.5" r="0.68"/><circle cx="730.7" cy="1043.4" r="0.43"/><circle cx="735.5" cy="1043.7" r="0.49"/><circle cx="737.6" cy="1041.9" r="0.63"/><circle cx="744.8" cy="1040.5" r="0.50"/><circle cx="749.8" cy="1041.5" r="0.43"/><circle cx="753.9" cy="1043.8" r="0.53"/><circle cx="757.4" cy="1043.5" r="0.65"/><circle cx="759.6" cy="1043.4" r="0.68"/><circle cx="766.4" cy="1042.5" r="0.52"/><circle cx="771.6" cy="1044.5" r="0.64"/><circle cx="773.8" cy="1044.1" r="0.66"/><circle cx="778.1" cy="1040.8" r="0.58"/><circle cx="780.8" cy="1041.7" r="0.57"/><circle cx="786.7" cy="1043.0" r="0.65"/><circle cx="792.9" cy="1041.6" r="0.69"/><circle cx="794.5" cy="1041.7" r="0.63"/><circle cx="801.6" cy="1042.4" r="0.64"/><circle cx="805.3" cy="1041.6" r="0.59"/><circle cx="810.1" cy="1040.3" r="0.44"/><circle cx="814.1" cy="1042.7" r="0.53"/><circle cx="818.1" cy="1042.2" r="0.44"/><circle cx="820.5" cy="1043.5" r="0.59"/><circle cx="825.4" cy="1040.3" r="0.70"/><circle cx="827.9" cy="1041.4" r="0.64"/><circle cx="835.9" cy="1043.2" r="0.51"/><circle cx="839.4" cy="1043.1" r="0.57"/><circle cx="843.8" cy="1042.6" r="0.56"/><circle cx="845.9" cy="1043.6" r="0.43"/><circle cx="849.5" cy="1043.0" r="0.41"/><circle cx="706.6" cy="1045.4" r="0.54"/><circle cx="708.3" cy="1046.6" r="0.58"/><circle cx="712.3" cy="1046.9" r="0.69"/><circle cx="716.4" cy="1045.5" r="0.46"/><circle cx="720.5" cy="1044.6" r="0.69"/><circle cx="728.5" cy="1044.7" r="0.65"/><circle cx="731.1" cy="1045.4" r="0.66"/><circle cx="733.4" cy="1047.3" r="0.60"/><circle cx="740.3" cy="1045.6" r="0.44"/><circle cx="744.3" cy="1045.8" r="0.58"/><circle cx="749.0" cy="1044.7" r="0.62"/><circle cx="754.4" cy="1046.3" r="0.57"/><circle cx="755.9" cy="1048.3" r="0.47"/><circle cx="759.2" cy="1046.7" r="0.53"/><circle cx="765.5" cy="1045.4" r="0.68"/><circle cx="769.6" cy="1046.2" r="0.62"/><circle cx="771.8" cy="1048.5" r="0.65"/><circle cx="777.1" cy="1046.5" r="0.41"/><circle cx="783.7" cy="1048.7" r="0.58"/><circle cx="788.8" cy="1046.6" r="0.66"/><circle cx="792.5" cy="1048.5" r="0.54"/><circle cx="795.3" cy="1044.7" r="0.69"/><circle cx="797.8" cy="1047.0" r="0.58"/><circle cx="802.5" cy="1046.1" r="0.49"/><circle cx="806.1" cy="1046.3" r="0.51"/><circle cx="813.4" cy="1047.6" r="0.68"/><circle cx="818.4" cy="1045.7" r="0.58"/><circle cx="821.9" cy="1047.9" r="0.44"/><circle cx="824.7" cy="1047.2" r="0.49"/><circle cx="831.5" cy="1046.3" r="0.61"/><circle cx="832.1" cy="1048.4" r="0.69"/><circle cx="840.3" cy="1046.0" r="0.65"/><circle cx="844.7" cy="1045.0" r="0.42"/><circle cx="847.6" cy="1048.8" r="0.41"/><circle cx="852.7" cy="1047.4" r="0.54"/><circle cx="703.5" cy="1051.0" r="0.55"/><circle cx="708.0" cy="1052.7" r="0.62"/><circle cx="712.2" cy="1051.5" r="0.58"/><circle cx="719.8" cy="1053.1" r="0.67"/><circle cx="720.3" cy="1050.7" r="0.45"/><circle cx="727.6" cy="1049.2" r="0.65"/><circle cx="731.3" cy="1051.6" r="0.68"/><circle cx="736.7" cy="1052.0" r="0.59"/><circle cx="739.6" cy="1051.1" r="0.41"/><circle cx="742.4" cy="1051.8" r="0.52"/><circle cx="747.8" cy="1052.5" r="0.52"/><circle cx="753.3" cy="1052.3" r="0.65"/><circle cx="755.5" cy="1051.5" r="0.54"/><circle cx="761.3" cy="1049.2" r="0.46"/><circle cx="764.1" cy="1052.2" r="0.63"/><circle cx="769.0" cy="1051.5" r="0.53"/><circle cx="774.0" cy="1050.0" r="0.50"/><circle cx="780.1" cy="1052.7" r="0.44"/><circle cx="780.8" cy="1052.6" r="0.53"/><circle cx="787.3" cy="1051.4" r="0.58"/><circle cx="792.7" cy="1049.5" r="0.66"/><circle cx="794.3" cy="1049.2" r="0.49"/><circle cx="799.7" cy="1052.3" r="0.57"/><circle cx="805.9" cy="1049.7" r="0.51"/><circle cx="808.5" cy="1051.4" r="0.61"/><circle cx="812.5" cy="1049.3" r="0.63"/><circle cx="818.1" cy="1049.2" r="0.64"/><circle cx="819.0" cy="1051.8" r="0.59"/><circle cx="824.5" cy="1049.2" r="0.48"/><circle cx="830.2" cy="1051.1" r="0.64"/><circle cx="832.6" cy="1051.5" r="0.49"/><circle cx="836.3" cy="1049.7" r="0.43"/><circle cx="841.1" cy="1049.0" r="0.69"/><circle cx="846.3" cy="1052.1" r="0.53"/><circle cx="851.2" cy="1049.9" r="0.68"/><circle cx="703.8" cy="1057.3" r="0.63"/><circle cx="710.9" cy="1053.6" r="0.70"/><circle cx="714.3" cy="1055.6" r="0.57"/><circle cx="717.7" cy="1057.2" r="0.69"/><circle cx="724.1" cy="1053.8" r="0.56"/><circle cx="727.4" cy="1053.9" r="0.67"/><circle cx="731.9" cy="1053.7" r="0.49"/><circle cx="735.9" cy="1056.9" r="0.70"/><circle cx="738.4" cy="1056.7" r="0.58"/><circle cx="743.1" cy="1054.2" r="0.43"/><circle cx="746.0" cy="1055.0" r="0.44"/><circle cx="751.0" cy="1054.5" r="0.44"/><circle cx="755.3" cy="1054.3" r="0.69"/><circle cx="760.6" cy="1055.8" r="0.56"/><circle cx="767.2" cy="1056.7" r="0.68"/><circle cx="771.1" cy="1056.3" r="0.66"/><circle cx="773.1" cy="1055.8" r="0.50"/><circle cx="779.9" cy="1054.3" r="0.70"/><circle cx="781.3" cy="1054.6" r="0.62"/><circle cx="787.0" cy="1054.1" r="0.44"/><circle cx="792.6" cy="1054.0" r="0.55"/><circle cx="796.8" cy="1055.2" r="0.54"/><circle cx="798.2" cy="1057.2" r="0.58"/><circle cx="804.6" cy="1054.8" r="0.61"/><circle cx="807.7" cy="1053.9" r="0.51"/><circle cx="813.6" cy="1056.9" r="0.55"/><circle cx="817.5" cy="1057.2" r="0.60"/><circle cx="823.1" cy="1054.2" r="0.66"/><circle cx="826.5" cy="1055.6" r="0.58"/><circle cx="828.3" cy="1053.2" r="0.41"/><circle cx="835.7" cy="1054.9" r="0.58"/><circle cx="838.1" cy="1056.9" r="0.62"/><circle cx="842.1" cy="1055.9" r="0.46"/><circle cx="848.8" cy="1053.8" r="0.67"/><circle cx="851.4" cy="1053.8" r="0.70"/></g></g>
<path d="M727 970.6 L742.7 970.6 C760 971 772 975 779.7 977 C783 977 787 975 792.5 973.4 C805 969 818 968 833.7 972.7 C842 978 848 990 850.8 1004 C852 1018 849 1030 842.2 1039.6 C835 1048 825 1051 813.8 1051 C805 1051 800 1050 798.2 1049.5 L759.7 1052.4 C752 1054 742 1053 735.6 1051 C725 1046 714 1035 711.4 1022.5 C709 1010 709 995 714 985 C717 979 722 974 727 970.6 Z" fill="none" stroke-width="1.8"/>
<path d="M724.2 958.5 C742 950 760 946 778.2 945 C800 945 820 950 838 958.5 L833.7 972.7 C818 968 805 969 792.5 973.4 C787 975 783 977 779.7 977 C772 975 760 971 742.7 970.6 L727 970.6 Z" fill="url(#cDiag)" stroke-width="1.8"/>
<path d="M741.3 1053.8 C741 1063 744 1070 749.8 1075.1 C756 1080 768 1081.5 781.1 1081.5 C795 1081.5 806 1078 813.8 1072.3 C819 1067 822 1060 821.6 1052.4 C815 1051 805 1050 798.2 1049.5 L759.7 1052.4 C752 1054 745 1054 741.3 1053.8 Z" fill="url(#cCross)" stroke-width="2.4"/>
<path d="M779.5 984.5 C793 984.5 800 988 801.5 998 C803 1010 803.5 1030 802.5 1042 C801.5 1053 793 1058 779.5 1058 C766 1058 757.5 1053 756.5 1042 C755.5 1030 756 1010 757.5 998 C759 988 766 984.5 779.5 984.5 Z" fill="url(#cCheck)" stroke-width="2.6"/>
<ellipse cx="779" cy="1024.6" rx="9.3" ry="20.6" fill="#fff" stroke-width="2.6"/>
<circle cx="779.7" cy="1070.2" r="2" fill="#fff" stroke-width="1.2"/><circle cx="785.3" cy="1070.2" r="2" fill="#fff" stroke-width="1.2"/>
<path d="M778.2 945 C800 945 825 949 843.9 959.4 C868 972 888 995 897 1020 C902 1040 901 1062 892 1084 C882 1108 862 1126 838 1133 C815 1139 795 1133 779.4 1130.6 C762 1133 745 1137 722 1133 C700 1128 680 1112 670 1090 C662 1070 662 1045 665 1025 C669 1000 682 980 700 966 C722 950 750 945 778.2 945 Z" fill="none" stroke-width="2.4"/>
</g><g stroke="#1a1a1a" stroke-width="1.3" fill="none" stroke-linecap="round">
<path d="M243.6 450.2L278.4 475.6"/>
<path d="M429.3 444.2L354.9 490.7"/>
<path d="M446.7 489L404 513.6"/>
<path d="M162.7 550L220.7 582.2"/>
<path d="M594.2 536.3L550.7 563"/>
<path d="M564 582.6L598.7 598.2"/>
<path d="M232.4 650.5L271.6 629.9"/>
<path d="M416.4 637.4L464.9 666.2"/>
<path d="M299.6 776.1L241.2 807.2"/>
<path d="M343.7 819.6L323.6 895.6"/>
<path d="M456.8 895.6L404 944.8"/>
<path d="M500.5 1000.9L452.8 960.3"/>
<path d="M261.4 1020.3V1051.5"/>
<path d="M182.5 1034V1084.4"/>
<path d="M329.8 994V1084.4"/>
<path d="M873.9 887.6L792.7 958.4"/>
<path d="M903.2 938.9L832.8 995"/>
<path d="M654.8 972.4L778.3 1030.6"/>
<path d="M917.7 998.4L797.2 1022.8"/>
<path d="M650 1070L776.1 1070.6"/>
<path d="M920.4 1058.7L811.7 1061.7"/>
<path d="M902 1112.5L843.6 1115.7"/>
</g>
<g font-family="Liberation Sans" font-size="16.6" fill="#1a1a1a" stroke="#1a1a1a" stroke-width="0.28">
<text x="182.4" y="453.2" textLength="56.8" lengthAdjust="spacingAndGlyphs">Urethra</text>
<text x="432.0" y="448.5" textLength="114.2" lengthAdjust="spacingAndGlyphs">Transition zone</text>
<text x="452.8" y="493.3" textLength="204.6" lengthAdjust="spacingAndGlyphs">Anterior fibromuscular area</text>
<text x="114.4" y="535.5" textLength="85.0" lengthAdjust="spacingAndGlyphs">Ejaculatory</text>
<text x="114.4" y="554.1" textLength="41.7" lengthAdjust="spacingAndGlyphs">ducts</text>
<text x="600.6" y="540.7" textLength="118.2" lengthAdjust="spacingAndGlyphs">Urethral muscle</text>
<text x="605.9" y="607.4" textLength="56.9" lengthAdjust="spacingAndGlyphs">Urethra</text>
<text x="128.9" y="659.2" textLength="95.7" lengthAdjust="spacingAndGlyphs">Central zone</text>
<text x="473.0" y="677.3" textLength="117.2" lengthAdjust="spacingAndGlyphs">Peripheral zone</text>
<text x="307.1" y="780.6" textLength="58.6" lengthAdjust="spacingAndGlyphs">Bladder</text>
<text x="340.2" y="811.0" textLength="111.4" lengthAdjust="spacingAndGlyphs">Transition zone</text>
<text x="399.6" y="851.5" textLength="85.6" lengthAdjust="spacingAndGlyphs">Figure 1(C)</text>
<text x="461.5" y="899.2" textLength="118.6" lengthAdjust="spacingAndGlyphs">Urethral muscle</text>
<text x="507.7" y="1011.3" textLength="56.3" lengthAdjust="spacingAndGlyphs">Urethra</text>
<text x="213.7" y="1073.7" textLength="95.9" lengthAdjust="spacingAndGlyphs">Central zone</text>
<text x="399.8" y="1067.5" textLength="86.0" lengthAdjust="spacingAndGlyphs">Figure 1(C)</text>
<text x="124.8" y="1106.2" textLength="117.0" lengthAdjust="spacingAndGlyphs">Seminal vesicle</text>
<text x="266.0" y="1105.2" textLength="129.4" lengthAdjust="spacingAndGlyphs">Ejaculatory ducts</text>
<text x="880.0" y="870.6" textLength="60.8" lengthAdjust="spacingAndGlyphs">Anterior</text>
<text x="880.0" y="889.2" textLength="101.8" lengthAdjust="spacingAndGlyphs">fibromuscular</text>
<text x="880.0" y="908.0" textLength="35.0" lengthAdjust="spacingAndGlyphs">area</text>
<text x="907.7" y="942.6" textLength="72.2" lengthAdjust="spacingAndGlyphs">Transition</text>
<text x="907.7" y="961.2" textLength="36.4" lengthAdjust="spacingAndGlyphs">zone</text>
<text x="591.1" y="977.2" textLength="57.1" lengthAdjust="spacingAndGlyphs">Urethra</text>
<text x="924.4" y="1006.4" textLength="60.6" lengthAdjust="spacingAndGlyphs">Urethral</text>
<text x="924.4" y="1025.3" textLength="53.9" lengthAdjust="spacingAndGlyphs">muscle</text>
<text x="559.1" y="1074.8" textLength="84.8" lengthAdjust="spacingAndGlyphs">Ejaculatory</text>
<text x="559.1" y="1093.2" textLength="41.1" lengthAdjust="spacingAndGlyphs">ducts</text>
<text x="927.6" y="1067.7" textLength="55.0" lengthAdjust="spacingAndGlyphs">Central</text>
<text x="927.6" y="1086.4" textLength="37.1" lengthAdjust="spacingAndGlyphs">zone</text>
<text x="909.2" y="1121.6" textLength="77.1" lengthAdjust="spacingAndGlyphs">Peripheral</text>
<text x="909.2" y="1140.0" textLength="37.1" lengthAdjust="spacingAndGlyphs">zone</text>
</g>
<g font-family="Liberation Sans" font-size="16.8" font-weight="bold" fill="#1e1e1e">
<text x="112.9" y="692.6" textLength="13.4" lengthAdjust="spacingAndGlyphs">A</text>
<text x="105.8" y="1135.0" textLength="12.8" lengthAdjust="spacingAndGlyphs">B</text>
<text x="558.0" y="1133.2" textLength="13.4" lengthAdjust="spacingAndGlyphs">C</text>
</g></svg>
</body></html>
